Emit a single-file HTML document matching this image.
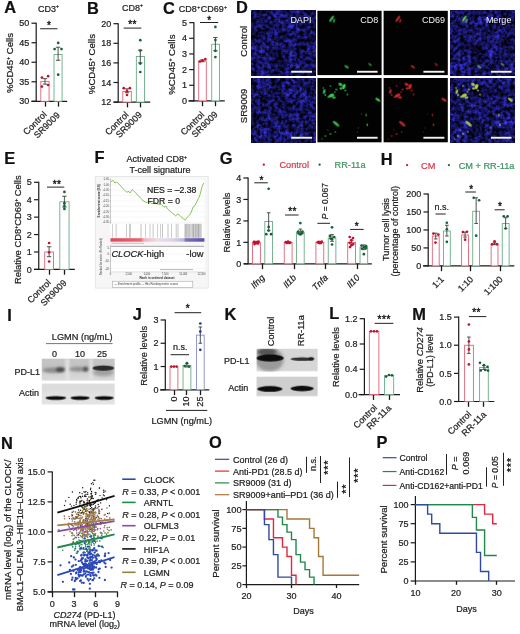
<!DOCTYPE html><html><head><meta charset="utf-8"><style>html,body{margin:0;padding:0;background:#fff;}svg{display:block;will-change:transform;}</style></head><body><svg width="520" height="634" viewBox="0 0 520 634" font-family='"Liberation Sans", sans-serif' fill="#222">
<rect width="520" height="634" fill="#fff"/>
<text x="4.35" y="13.30" font-size="16.4" fill="#111" font-weight="bold" stroke="#111" stroke-width="0.22">A</text>
<text x="38.10" y="11.60" font-size="9" stroke="#222" stroke-width="0.22">CD3<tspan font-size="5.2" dy="-3.9">+</tspan></text>
<line x1="36.20" y1="22.70" x2="36.20" y2="101.80" stroke="#1a1a1a" stroke-width="1.2"/>
<line x1="31.50" y1="23.20" x2="36.20" y2="23.20" stroke="#1a1a1a" stroke-width="1.2"/>
<text x="29.30" y="26.35" font-size="9" text-anchor="end" stroke="#222" stroke-width="0.22">50</text>
<line x1="31.50" y1="42.73" x2="36.20" y2="42.73" stroke="#1a1a1a" stroke-width="1.2"/>
<text x="29.30" y="45.88" font-size="9" text-anchor="end" stroke="#222" stroke-width="0.22">45</text>
<line x1="31.50" y1="62.25" x2="36.20" y2="62.25" stroke="#1a1a1a" stroke-width="1.2"/>
<text x="29.30" y="65.40" font-size="9" text-anchor="end" stroke="#222" stroke-width="0.22">40</text>
<line x1="31.50" y1="81.78" x2="36.20" y2="81.78" stroke="#1a1a1a" stroke-width="1.2"/>
<text x="29.30" y="84.93" font-size="9" text-anchor="end" stroke="#222" stroke-width="0.22">35</text>
<line x1="31.50" y1="101.30" x2="36.20" y2="101.30" stroke="#1a1a1a" stroke-width="1.2"/>
<text x="29.30" y="104.45" font-size="9" text-anchor="end" stroke="#222" stroke-width="0.22">30</text>
<line x1="31.50" y1="101.30" x2="67.20" y2="101.30" stroke="#1a1a1a" stroke-width="1.2"/>
<line x1="45.50" y1="101.30" x2="45.50" y2="106.60" stroke="#1a1a1a" stroke-width="1.3"/>
<line x1="58.50" y1="101.30" x2="58.50" y2="106.60" stroke="#1a1a1a" stroke-width="1.3"/>
<rect x="40.82" y="81.38" width="8.25" height="19.92" fill="#fff" stroke="#e05a70" stroke-width="0.85"/>
<rect x="54.02" y="54.44" width="8.05" height="46.86" fill="#fff" stroke="#62a880" stroke-width="0.85"/>
<line x1="45.00" y1="78.65" x2="45.00" y2="84.12" stroke="#3a403a" stroke-width="0.9"/>
<line x1="42.80" y1="78.65" x2="47.20" y2="78.65" stroke="#3a403a" stroke-width="0.9"/>
<line x1="42.80" y1="84.12" x2="47.20" y2="84.12" stroke="#3a403a" stroke-width="0.9"/>
<line x1="58.10" y1="47.22" x2="58.10" y2="60.30" stroke="#3a403a" stroke-width="0.9"/>
<line x1="55.90" y1="47.22" x2="60.30" y2="47.22" stroke="#3a403a" stroke-width="0.9"/>
<line x1="55.90" y1="60.30" x2="60.30" y2="60.30" stroke="#3a403a" stroke-width="0.9"/>
<circle cx="41.90" cy="77.60" r="1.35" fill="#c4102c"/>
<circle cx="48.10" cy="76.20" r="1.35" fill="#c4102c"/>
<circle cx="41.90" cy="86.60" r="1.35" fill="#c4102c"/>
<circle cx="48.10" cy="85.00" r="1.35" fill="#c4102c"/>
<circle cx="58.20" cy="42.90" r="1.35" fill="#17603a"/>
<circle cx="54.60" cy="49.10" r="1.35" fill="#17603a"/>
<circle cx="61.50" cy="49.10" r="1.35" fill="#17603a"/>
<circle cx="58.20" cy="74.70" r="1.35" fill="#17603a"/>
<line x1="40.20" y1="28.75" x2="57.50" y2="28.75" stroke="#222" stroke-width="1.0"/>
<text x="48.85" y="29.13" font-size="10.0" text-anchor="middle" fill="#151515" stroke="#151515" stroke-width="0.35">*</text>
<text x="13.20" y="63.00" font-size="9.6" text-anchor="middle" transform="rotate(-90 13.20 63.00)" stroke="#222" stroke-width="0.22">%CD45<tspan font-size="5.2" dy="-3.1">+</tspan><tspan dy="3.1"> Cells</tspan></text>
<text x="47.30" y="115.00" font-size="9" text-anchor="end" transform="rotate(-45 47.30 115.00)" stroke="#222" stroke-width="0.22">Control</text>
<text x="60.50" y="115.80" font-size="9" text-anchor="end" transform="rotate(-45 60.50 115.80)" stroke="#222" stroke-width="0.22">SR9009</text>
<text x="87.10" y="13.80" font-size="16.4" fill="#111" font-weight="bold" stroke="#111" stroke-width="0.22">B</text>
<text x="121.90" y="10.70" font-size="9" stroke="#222" stroke-width="0.22">CD8<tspan font-size="5.2" dy="-3.9">+</tspan></text>
<line x1="118.20" y1="23.20" x2="118.20" y2="102.60" stroke="#1a1a1a" stroke-width="1.2"/>
<line x1="113.50" y1="23.70" x2="118.20" y2="23.70" stroke="#1a1a1a" stroke-width="1.2"/>
<text x="111.30" y="26.85" font-size="9" text-anchor="end" stroke="#222" stroke-width="0.22">20</text>
<line x1="113.50" y1="43.30" x2="118.20" y2="43.30" stroke="#1a1a1a" stroke-width="1.2"/>
<text x="111.30" y="46.45" font-size="9" text-anchor="end" stroke="#222" stroke-width="0.22">18</text>
<line x1="113.50" y1="62.90" x2="118.20" y2="62.90" stroke="#1a1a1a" stroke-width="1.2"/>
<text x="111.30" y="66.05" font-size="9" text-anchor="end" stroke="#222" stroke-width="0.22">16</text>
<line x1="113.50" y1="82.50" x2="118.20" y2="82.50" stroke="#1a1a1a" stroke-width="1.2"/>
<text x="111.30" y="85.65" font-size="9" text-anchor="end" stroke="#222" stroke-width="0.22">14</text>
<line x1="113.50" y1="102.10" x2="118.20" y2="102.10" stroke="#1a1a1a" stroke-width="1.2"/>
<text x="111.30" y="105.25" font-size="9" text-anchor="end" stroke="#222" stroke-width="0.22">12</text>
<line x1="113.50" y1="102.10" x2="150.20" y2="102.10" stroke="#1a1a1a" stroke-width="1.2"/>
<line x1="127.50" y1="102.10" x2="127.50" y2="107.40" stroke="#1a1a1a" stroke-width="1.3"/>
<line x1="140.50" y1="102.10" x2="140.50" y2="107.40" stroke="#1a1a1a" stroke-width="1.3"/>
<rect x="122.83" y="91.52" width="8.45" height="10.58" fill="#fff" stroke="#e05a70" stroke-width="0.85"/>
<rect x="136.33" y="56.53" width="8.15" height="45.57" fill="#fff" stroke="#62a880" stroke-width="0.85"/>
<line x1="127.00" y1="88.87" x2="127.00" y2="92.79" stroke="#3a403a" stroke-width="0.9"/>
<line x1="124.80" y1="88.87" x2="129.20" y2="88.87" stroke="#3a403a" stroke-width="0.9"/>
<line x1="124.80" y1="92.79" x2="129.20" y2="92.79" stroke="#3a403a" stroke-width="0.9"/>
<line x1="140.30" y1="50.16" x2="140.30" y2="62.90" stroke="#3a403a" stroke-width="0.9"/>
<line x1="138.10" y1="50.16" x2="142.50" y2="50.16" stroke="#3a403a" stroke-width="0.9"/>
<line x1="138.10" y1="62.90" x2="142.50" y2="62.90" stroke="#3a403a" stroke-width="0.9"/>
<circle cx="123.70" cy="88.20" r="1.35" fill="#c4102c"/>
<circle cx="129.90" cy="88.20" r="1.35" fill="#c4102c"/>
<circle cx="127.00" cy="95.00" r="1.35" fill="#c4102c"/>
<circle cx="127.00" cy="91.20" r="1.35" fill="#c4102c"/>
<circle cx="140.30" cy="40.20" r="1.35" fill="#17603a"/>
<circle cx="140.30" cy="50.60" r="1.35" fill="#17603a"/>
<circle cx="140.30" cy="63.60" r="1.35" fill="#17603a"/>
<circle cx="140.30" cy="72.00" r="1.35" fill="#17603a"/>
<line x1="123.70" y1="28.10" x2="141.30" y2="28.10" stroke="#222" stroke-width="1.0"/>
<text x="130.25" y="28.23" font-size="10.0" text-anchor="middle" fill="#151515" stroke="#151515" stroke-width="0.35">*</text>
<text x="134.55" y="28.23" font-size="10.0" text-anchor="middle" fill="#151515" stroke="#151515" stroke-width="0.35">*</text>
<text x="94.80" y="64.10" font-size="9.6" text-anchor="middle" transform="rotate(-90 94.80 64.10)" stroke="#222" stroke-width="0.22">%CD45<tspan font-size="5.2" dy="-3.1">+</tspan><tspan dy="3.1"> Cells</tspan></text>
<text x="129.20" y="115.30" font-size="9" text-anchor="end" transform="rotate(-45 129.20 115.30)" stroke="#222" stroke-width="0.22">Control</text>
<text x="142.50" y="115.30" font-size="9" text-anchor="end" transform="rotate(-45 142.50 115.30)" stroke="#222" stroke-width="0.22">SR9009</text>
<text x="163.05" y="13.70" font-size="16.4" fill="#111" font-weight="bold" stroke="#111" stroke-width="0.22">C</text>
<text x="178.80" y="11.90" font-size="9" stroke="#222" stroke-width="0.22">CD8<tspan font-size="5.2" dy="-2.6" dx="0.4">+</tspan><tspan dy="2.6" dx="0.4">CD69</tspan><tspan font-size="5.2" dy="-2.6" dx="0.3">+</tspan></text>
<line x1="193.90" y1="22.15" x2="193.90" y2="101.40" stroke="#1a1a1a" stroke-width="1.2"/>
<line x1="189.20" y1="22.65" x2="193.90" y2="22.65" stroke="#1a1a1a" stroke-width="1.2"/>
<text x="187.00" y="25.80" font-size="9" text-anchor="end" stroke="#222" stroke-width="0.22">5</text>
<line x1="189.20" y1="38.30" x2="193.90" y2="38.30" stroke="#1a1a1a" stroke-width="1.2"/>
<text x="187.00" y="41.45" font-size="9" text-anchor="end" stroke="#222" stroke-width="0.22">4</text>
<line x1="189.20" y1="53.95" x2="193.90" y2="53.95" stroke="#1a1a1a" stroke-width="1.2"/>
<text x="187.00" y="57.10" font-size="9" text-anchor="end" stroke="#222" stroke-width="0.22">3</text>
<line x1="189.20" y1="69.60" x2="193.90" y2="69.60" stroke="#1a1a1a" stroke-width="1.2"/>
<text x="187.00" y="72.75" font-size="9" text-anchor="end" stroke="#222" stroke-width="0.22">2</text>
<line x1="189.20" y1="85.25" x2="193.90" y2="85.25" stroke="#1a1a1a" stroke-width="1.2"/>
<text x="187.00" y="88.40" font-size="9" text-anchor="end" stroke="#222" stroke-width="0.22">1</text>
<line x1="189.20" y1="100.90" x2="193.90" y2="100.90" stroke="#1a1a1a" stroke-width="1.2"/>
<text x="187.00" y="104.05" font-size="9" text-anchor="end" stroke="#222" stroke-width="0.22">0</text>
<line x1="188.40" y1="100.90" x2="224.80" y2="100.90" stroke="#1a1a1a" stroke-width="1.2"/>
<line x1="202.50" y1="100.90" x2="202.50" y2="106.20" stroke="#1a1a1a" stroke-width="1.3"/>
<line x1="215.50" y1="100.90" x2="215.50" y2="106.20" stroke="#1a1a1a" stroke-width="1.3"/>
<rect x="198.73" y="60.99" width="7.55" height="39.91" fill="#fff" stroke="#e05a70" stroke-width="0.85"/>
<rect x="211.73" y="44.25" width="7.85" height="56.65" fill="#fff" stroke="#62a880" stroke-width="0.85"/>
<line x1="202.40" y1="59.90" x2="202.40" y2="61.78" stroke="#3a403a" stroke-width="0.9"/>
<line x1="200.20" y1="59.90" x2="204.60" y2="59.90" stroke="#3a403a" stroke-width="0.9"/>
<line x1="200.20" y1="61.78" x2="204.60" y2="61.78" stroke="#3a403a" stroke-width="0.9"/>
<line x1="215.40" y1="37.52" x2="215.40" y2="50.82" stroke="#3a403a" stroke-width="0.9"/>
<line x1="213.20" y1="37.52" x2="217.60" y2="37.52" stroke="#3a403a" stroke-width="0.9"/>
<line x1="213.20" y1="50.82" x2="217.60" y2="50.82" stroke="#3a403a" stroke-width="0.9"/>
<circle cx="199.80" cy="61.50" r="1.35" fill="#c4102c"/>
<circle cx="202.40" cy="60.70" r="1.35" fill="#c4102c"/>
<circle cx="205.30" cy="59.20" r="1.35" fill="#c4102c"/>
<circle cx="215.40" cy="26.90" r="1.35" fill="#17603a"/>
<circle cx="215.40" cy="40.10" r="1.35" fill="#17603a"/>
<circle cx="215.40" cy="50.80" r="1.35" fill="#17603a"/>
<circle cx="215.40" cy="57.10" r="1.35" fill="#17603a"/>
<line x1="200.00" y1="22.50" x2="218.20" y2="22.50" stroke="#222" stroke-width="1.0"/>
<text x="209.10" y="24.33" font-size="10.0" text-anchor="middle" fill="#151515" stroke="#151515" stroke-width="0.35">*</text>
<text x="174.70" y="64.60" font-size="9.6" text-anchor="middle" transform="rotate(-90 174.70 64.60)" stroke="#222" stroke-width="0.22">%CD45<tspan font-size="5.2" dy="-3.1">+</tspan><tspan dy="3.1"> Cells</tspan></text>
<text x="204.80" y="115.30" font-size="9" text-anchor="end" transform="rotate(-45 204.80 115.30)" stroke="#222" stroke-width="0.22">Control</text>
<text x="218.30" y="114.90" font-size="9" text-anchor="end" transform="rotate(-45 218.30 114.90)" stroke="#222" stroke-width="0.22">SR9009</text>
<text x="235.90" y="13.30" font-size="16.4" fill="#111" font-weight="bold" stroke="#111" stroke-width="0.22">D</text>
<defs>
<filter id="dapi" x="0" y="0" width="100%" height="100%" color-interpolation-filters="sRGB">
 <feTurbulence type="fractalNoise" baseFrequency="0.28" numOctaves="3" seed="11" result="t1"/>
 <feColorMatrix in="t1" type="matrix" values="1 0 0 0 0  1 0 0 0 0  1 0 0 0 0  0 0 0 0 1" result="n"/>
 <feTurbulence type="fractalNoise" baseFrequency="0.07" numOctaves="2" seed="5" result="t2"/>
 <feColorMatrix in="t2" type="matrix" values="1 0 0 0 0  1 0 0 0 0  1 0 0 0 0  0 0 0 0 1" result="m"/>
 <feComposite in="n" in2="m" operator="arithmetic" k1="1" k2="0.5" k3="0" k4="0" result="nm"/>
 <feColorMatrix in="nm" type="matrix" values="0.32 0 0 0 -0.085  0.3 0 0 0 -0.08  1.3 0 0 0 -0.315  0 0 0 0 1"/>
 <feGaussianBlur stdDeviation="0.5"/>
</filter>
<filter id="dapi2" x="0" y="0" width="100%" height="100%" color-interpolation-filters="sRGB">
 <feTurbulence type="fractalNoise" baseFrequency="0.28" numOctaves="3" seed="23" result="t1"/>
 <feColorMatrix in="t1" type="matrix" values="1 0 0 0 0  1 0 0 0 0  1 0 0 0 0  0 0 0 0 1" result="n"/>
 <feTurbulence type="fractalNoise" baseFrequency="0.07" numOctaves="2" seed="9" result="t2"/>
 <feColorMatrix in="t2" type="matrix" values="1 0 0 0 0  1 0 0 0 0  1 0 0 0 0  0 0 0 0 1" result="m"/>
 <feComposite in="n" in2="m" operator="arithmetic" k1="1" k2="0.5" k3="0" k4="0" result="nm"/>
 <feColorMatrix in="nm" type="matrix" values="0.32 0 0 0 -0.085  0.3 0 0 0 -0.08  1.3 0 0 0 -0.315  0 0 0 0 1"/>
 <feGaussianBlur stdDeviation="0.5"/>
</filter>
<filter id="blur06"><feGaussianBlur stdDeviation="0.6"/></filter>
<filter id="blur04" x="-50%" y="-50%" width="200%" height="200%"><feGaussianBlur stdDeviation="0.55"/></filter>
</defs>
<rect x="251.00" y="10.80" width="64.20" height="64.30" fill="#111" filter="url(#dapi)"/>
<rect x="317.40" y="10.80" width="64.20" height="64.30" fill="#020202"/>
<ellipse cx="331.60" cy="18.80" rx="1.1" ry="3.8" fill="#3ad056" opacity="0.95" transform="rotate(35 331.60 18.80)" filter="url(#blur04)"/>
<ellipse cx="334.00" cy="20.80" rx="1.0" ry="2.2" fill="#3ad056" opacity="0.70" transform="rotate(15 334.00 20.80)" filter="url(#blur04)"/>
<ellipse cx="346.60" cy="66.80" rx="1.2" ry="2.6" fill="#3ad056" opacity="0.75" transform="rotate(-55 346.60 66.80)" filter="url(#blur04)"/>
<ellipse cx="370.00" cy="64.50" rx="0.9" ry="2.2" fill="#3ad056" opacity="0.65" transform="rotate(-45 370.00 64.50)" filter="url(#blur04)"/>
<rect x="383.60" y="10.80" width="64.20" height="64.30" fill="#020202"/>
<ellipse cx="397.80" cy="18.80" rx="1.1" ry="3.8" fill="#e02a2a" opacity="0.90" transform="rotate(35 397.80 18.80)" filter="url(#blur04)"/>
<ellipse cx="400.20" cy="20.80" rx="1.0" ry="2.2" fill="#e02a2a" opacity="0.66" transform="rotate(15 400.20 20.80)" filter="url(#blur04)"/>
<ellipse cx="412.80" cy="66.80" rx="1.2" ry="2.6" fill="#e02a2a" opacity="0.71" transform="rotate(-55 412.80 66.80)" filter="url(#blur04)"/>
<ellipse cx="436.20" cy="64.50" rx="0.9" ry="2.2" fill="#e02a2a" opacity="0.62" transform="rotate(-45 436.20 64.50)" filter="url(#blur04)"/>
<rect x="450.00" y="10.80" width="64.20" height="64.30" fill="#111" filter="url(#dapi)"/>
<ellipse cx="464.20" cy="18.80" rx="1.1" ry="3.8" fill="#70d848" opacity="0.85" transform="rotate(35 464.20 18.80)" filter="url(#blur04)"/>
<ellipse cx="466.60" cy="20.80" rx="1.0" ry="2.2" fill="#70d848" opacity="0.63" transform="rotate(15 466.60 20.80)" filter="url(#blur04)"/>
<ellipse cx="479.20" cy="66.80" rx="1.2" ry="2.6" fill="#70d848" opacity="0.68" transform="rotate(-55 479.20 66.80)" filter="url(#blur04)"/>
<ellipse cx="502.60" cy="64.50" rx="0.9" ry="2.2" fill="#70d848" opacity="0.59" transform="rotate(-45 502.60 64.50)" filter="url(#blur04)"/>
<rect x="251.00" y="78.00" width="64.20" height="64.30" fill="#111" filter="url(#dapi2)"/>
<rect x="317.40" y="78.00" width="64.20" height="64.30" fill="#020202"/>
<ellipse cx="340.40" cy="84.50" rx="2.2" ry="1.4" fill="#3ad056" opacity="0.90" transform="rotate(30 340.40 84.50)" filter="url(#blur04)"/>
<ellipse cx="343.90" cy="86.50" rx="1.6" ry="2.8" fill="#3ad056" opacity="1.00" transform="rotate(20 343.90 86.50)" filter="url(#blur04)"/>
<ellipse cx="340.90" cy="88.50" rx="1.4" ry="1.2" fill="#3ad056" opacity="0.80" transform="rotate(0 340.90 88.50)" filter="url(#blur04)"/>
<ellipse cx="345.40" cy="90.50" rx="1.2" ry="1.0" fill="#3ad056" opacity="0.60" transform="rotate(0 345.40 90.50)" filter="url(#blur04)"/>
<ellipse cx="331.40" cy="95.50" rx="3.0" ry="1.7" fill="#3ad056" opacity="0.95" transform="rotate(-25 331.40 95.50)" filter="url(#blur04)"/>
<ellipse cx="333.90" cy="97.50" rx="1.8" ry="1.3" fill="#3ad056" opacity="0.80" transform="rotate(0 333.90 97.50)" filter="url(#blur04)"/>
<ellipse cx="328.40" cy="97.00" rx="1.2" ry="1.0" fill="#3ad056" opacity="0.60" transform="rotate(0 328.40 97.00)" filter="url(#blur04)"/>
<ellipse cx="324.20" cy="91.50" rx="1.3" ry="2.6" fill="#3ad056" opacity="0.85" transform="rotate(15 324.20 91.50)" filter="url(#blur04)"/>
<ellipse cx="325.40" cy="95.00" rx="1.0" ry="1.2" fill="#3ad056" opacity="0.60" transform="rotate(0 325.40 95.00)" filter="url(#blur04)"/>
<ellipse cx="323.40" cy="88.00" rx="0.9" ry="0.9" fill="#3ad056" opacity="0.50" transform="rotate(0 323.40 88.00)" filter="url(#blur04)"/>
<ellipse cx="336.40" cy="89.50" rx="1.4" ry="1.0" fill="#3ad056" opacity="0.55" transform="rotate(0 336.40 89.50)" filter="url(#blur04)"/>
<ellipse cx="330.40" cy="86.00" rx="1.0" ry="1.0" fill="#3ad056" opacity="0.50" transform="rotate(0 330.40 86.00)" filter="url(#blur04)"/>
<ellipse cx="347.40" cy="94.50" rx="1.0" ry="1.3" fill="#3ad056" opacity="0.50" transform="rotate(0 347.40 94.50)" filter="url(#blur04)"/>
<ellipse cx="334.90" cy="92.00" rx="0.9" ry="0.9" fill="#3ad056" opacity="0.50" transform="rotate(0 334.90 92.00)" filter="url(#blur04)"/>
<ellipse cx="377.80" cy="99.70" rx="1.3" ry="3.0" fill="#3ad056" opacity="0.90" transform="rotate(-55 377.80 99.70)" filter="url(#blur04)"/>
<ellipse cx="336.00" cy="123.70" rx="1.4" ry="4.0" fill="#3ad056" opacity="0.85" transform="rotate(-50 336.00 123.70)" filter="url(#blur04)"/>
<ellipse cx="366.20" cy="115.00" rx="0.9" ry="1.5" fill="#3ad056" opacity="0.55" transform="rotate(0 366.20 115.00)" filter="url(#blur04)"/>
<ellipse cx="367.30" cy="124.70" rx="0.9" ry="1.5" fill="#3ad056" opacity="0.65" transform="rotate(0 367.30 124.70)" filter="url(#blur04)"/>
<ellipse cx="325.40" cy="136.00" rx="1.2" ry="1.0" fill="#3ad056" opacity="0.45" transform="rotate(0 325.40 136.00)" filter="url(#blur04)"/>
<ellipse cx="330.40" cy="134.00" rx="1.3" ry="1.0" fill="#3ad056" opacity="0.50" transform="rotate(0 330.40 134.00)" filter="url(#blur04)"/>
<ellipse cx="335.40" cy="132.00" rx="1.0" ry="1.0" fill="#3ad056" opacity="0.45" transform="rotate(0 335.40 132.00)" filter="url(#blur04)"/>
<ellipse cx="321.90" cy="139.00" rx="1.0" ry="0.8" fill="#3ad056" opacity="0.40" transform="rotate(0 321.90 139.00)" filter="url(#blur04)"/>
<ellipse cx="358.40" cy="128.00" rx="0.8" ry="0.8" fill="#3ad056" opacity="0.35" transform="rotate(0 358.40 128.00)" filter="url(#blur04)"/>
<ellipse cx="361.40" cy="114.00" rx="0.8" ry="0.8" fill="#3ad056" opacity="0.30" transform="rotate(0 361.40 114.00)" filter="url(#blur04)"/>
<ellipse cx="357.40" cy="132.00" rx="0.7" ry="0.7" fill="#3ad056" opacity="0.30" transform="rotate(0 357.40 132.00)" filter="url(#blur04)"/>
<ellipse cx="327.90" cy="130.00" rx="0.8" ry="0.8" fill="#3ad056" opacity="0.35" transform="rotate(0 327.90 130.00)" filter="url(#blur04)"/>
<rect x="383.60" y="78.00" width="64.20" height="64.30" fill="#020202"/>
<ellipse cx="406.60" cy="84.50" rx="2.2" ry="1.4" fill="#e02a2a" opacity="0.85" transform="rotate(30 406.60 84.50)" filter="url(#blur04)"/>
<ellipse cx="410.10" cy="86.50" rx="1.6" ry="2.8" fill="#e02a2a" opacity="0.95" transform="rotate(20 410.10 86.50)" filter="url(#blur04)"/>
<ellipse cx="407.10" cy="88.50" rx="1.4" ry="1.2" fill="#e02a2a" opacity="0.76" transform="rotate(0 407.10 88.50)" filter="url(#blur04)"/>
<ellipse cx="411.60" cy="90.50" rx="1.2" ry="1.0" fill="#e02a2a" opacity="0.57" transform="rotate(0 411.60 90.50)" filter="url(#blur04)"/>
<ellipse cx="397.60" cy="95.50" rx="3.0" ry="1.7" fill="#e02a2a" opacity="0.90" transform="rotate(-25 397.60 95.50)" filter="url(#blur04)"/>
<ellipse cx="400.10" cy="97.50" rx="1.8" ry="1.3" fill="#e02a2a" opacity="0.76" transform="rotate(0 400.10 97.50)" filter="url(#blur04)"/>
<ellipse cx="394.60" cy="97.00" rx="1.2" ry="1.0" fill="#e02a2a" opacity="0.57" transform="rotate(0 394.60 97.00)" filter="url(#blur04)"/>
<ellipse cx="390.40" cy="91.50" rx="1.3" ry="2.6" fill="#e02a2a" opacity="0.81" transform="rotate(15 390.40 91.50)" filter="url(#blur04)"/>
<ellipse cx="391.60" cy="95.00" rx="1.0" ry="1.2" fill="#e02a2a" opacity="0.57" transform="rotate(0 391.60 95.00)" filter="url(#blur04)"/>
<ellipse cx="389.60" cy="88.00" rx="0.9" ry="0.9" fill="#e02a2a" opacity="0.47" transform="rotate(0 389.60 88.00)" filter="url(#blur04)"/>
<ellipse cx="402.60" cy="89.50" rx="1.4" ry="1.0" fill="#e02a2a" opacity="0.52" transform="rotate(0 402.60 89.50)" filter="url(#blur04)"/>
<ellipse cx="396.60" cy="86.00" rx="1.0" ry="1.0" fill="#e02a2a" opacity="0.47" transform="rotate(0 396.60 86.00)" filter="url(#blur04)"/>
<ellipse cx="413.60" cy="94.50" rx="1.0" ry="1.3" fill="#e02a2a" opacity="0.47" transform="rotate(0 413.60 94.50)" filter="url(#blur04)"/>
<ellipse cx="401.10" cy="92.00" rx="0.9" ry="0.9" fill="#e02a2a" opacity="0.47" transform="rotate(0 401.10 92.00)" filter="url(#blur04)"/>
<ellipse cx="444.00" cy="99.70" rx="1.3" ry="3.0" fill="#e02a2a" opacity="0.85" transform="rotate(-55 444.00 99.70)" filter="url(#blur04)"/>
<ellipse cx="402.20" cy="123.70" rx="1.4" ry="4.0" fill="#e02a2a" opacity="0.81" transform="rotate(-50 402.20 123.70)" filter="url(#blur04)"/>
<ellipse cx="432.40" cy="115.00" rx="0.9" ry="1.5" fill="#e02a2a" opacity="0.52" transform="rotate(0 432.40 115.00)" filter="url(#blur04)"/>
<ellipse cx="433.50" cy="124.70" rx="0.9" ry="1.5" fill="#e02a2a" opacity="0.62" transform="rotate(0 433.50 124.70)" filter="url(#blur04)"/>
<ellipse cx="391.60" cy="136.00" rx="1.2" ry="1.0" fill="#e02a2a" opacity="0.43" transform="rotate(0 391.60 136.00)" filter="url(#blur04)"/>
<ellipse cx="396.60" cy="134.00" rx="1.3" ry="1.0" fill="#e02a2a" opacity="0.47" transform="rotate(0 396.60 134.00)" filter="url(#blur04)"/>
<ellipse cx="401.60" cy="132.00" rx="1.0" ry="1.0" fill="#e02a2a" opacity="0.43" transform="rotate(0 401.60 132.00)" filter="url(#blur04)"/>
<ellipse cx="388.10" cy="139.00" rx="1.0" ry="0.8" fill="#e02a2a" opacity="0.38" transform="rotate(0 388.10 139.00)" filter="url(#blur04)"/>
<ellipse cx="424.60" cy="128.00" rx="0.8" ry="0.8" fill="#e02a2a" opacity="0.33" transform="rotate(0 424.60 128.00)" filter="url(#blur04)"/>
<ellipse cx="427.60" cy="114.00" rx="0.8" ry="0.8" fill="#e02a2a" opacity="0.28" transform="rotate(0 427.60 114.00)" filter="url(#blur04)"/>
<ellipse cx="423.60" cy="132.00" rx="0.7" ry="0.7" fill="#e02a2a" opacity="0.28" transform="rotate(0 423.60 132.00)" filter="url(#blur04)"/>
<ellipse cx="394.10" cy="130.00" rx="0.8" ry="0.8" fill="#e02a2a" opacity="0.33" transform="rotate(0 394.10 130.00)" filter="url(#blur04)"/>
<rect x="450.00" y="78.00" width="64.20" height="64.30" fill="#111" filter="url(#dapi2)"/>
<ellipse cx="473.00" cy="84.50" rx="2.2" ry="1.4" fill="#c8ec50" opacity="0.81" transform="rotate(30 473.00 84.50)" filter="url(#blur04)"/>
<ellipse cx="476.50" cy="86.50" rx="1.6" ry="2.8" fill="#c8ec50" opacity="0.90" transform="rotate(20 476.50 86.50)" filter="url(#blur04)"/>
<ellipse cx="473.50" cy="88.50" rx="1.4" ry="1.2" fill="#c8ec50" opacity="0.72" transform="rotate(0 473.50 88.50)" filter="url(#blur04)"/>
<ellipse cx="478.00" cy="90.50" rx="1.2" ry="1.0" fill="#c8ec50" opacity="0.54" transform="rotate(0 478.00 90.50)" filter="url(#blur04)"/>
<ellipse cx="464.00" cy="95.50" rx="3.0" ry="1.7" fill="#c8ec50" opacity="0.85" transform="rotate(-25 464.00 95.50)" filter="url(#blur04)"/>
<ellipse cx="466.50" cy="97.50" rx="1.8" ry="1.3" fill="#c8ec50" opacity="0.72" transform="rotate(0 466.50 97.50)" filter="url(#blur04)"/>
<ellipse cx="461.00" cy="97.00" rx="1.2" ry="1.0" fill="#c8ec50" opacity="0.54" transform="rotate(0 461.00 97.00)" filter="url(#blur04)"/>
<ellipse cx="456.80" cy="91.50" rx="1.3" ry="2.6" fill="#c8ec50" opacity="0.77" transform="rotate(15 456.80 91.50)" filter="url(#blur04)"/>
<ellipse cx="458.00" cy="95.00" rx="1.0" ry="1.2" fill="#c8ec50" opacity="0.54" transform="rotate(0 458.00 95.00)" filter="url(#blur04)"/>
<ellipse cx="456.00" cy="88.00" rx="0.9" ry="0.9" fill="#c8ec50" opacity="0.45" transform="rotate(0 456.00 88.00)" filter="url(#blur04)"/>
<ellipse cx="469.00" cy="89.50" rx="1.4" ry="1.0" fill="#c8ec50" opacity="0.50" transform="rotate(0 469.00 89.50)" filter="url(#blur04)"/>
<ellipse cx="463.00" cy="86.00" rx="1.0" ry="1.0" fill="#c8ec50" opacity="0.45" transform="rotate(0 463.00 86.00)" filter="url(#blur04)"/>
<ellipse cx="480.00" cy="94.50" rx="1.0" ry="1.3" fill="#c8ec50" opacity="0.45" transform="rotate(0 480.00 94.50)" filter="url(#blur04)"/>
<ellipse cx="467.50" cy="92.00" rx="0.9" ry="0.9" fill="#c8ec50" opacity="0.45" transform="rotate(0 467.50 92.00)" filter="url(#blur04)"/>
<ellipse cx="510.40" cy="99.70" rx="1.3" ry="3.0" fill="#c8ec50" opacity="0.81" transform="rotate(-55 510.40 99.70)" filter="url(#blur04)"/>
<ellipse cx="468.60" cy="123.70" rx="1.4" ry="4.0" fill="#c8ec50" opacity="0.77" transform="rotate(-50 468.60 123.70)" filter="url(#blur04)"/>
<ellipse cx="498.80" cy="115.00" rx="0.9" ry="1.5" fill="#c8ec50" opacity="0.50" transform="rotate(0 498.80 115.00)" filter="url(#blur04)"/>
<ellipse cx="499.90" cy="124.70" rx="0.9" ry="1.5" fill="#c8ec50" opacity="0.59" transform="rotate(0 499.90 124.70)" filter="url(#blur04)"/>
<ellipse cx="458.00" cy="136.00" rx="1.2" ry="1.0" fill="#c8ec50" opacity="0.41" transform="rotate(0 458.00 136.00)" filter="url(#blur04)"/>
<ellipse cx="463.00" cy="134.00" rx="1.3" ry="1.0" fill="#c8ec50" opacity="0.45" transform="rotate(0 463.00 134.00)" filter="url(#blur04)"/>
<ellipse cx="468.00" cy="132.00" rx="1.0" ry="1.0" fill="#c8ec50" opacity="0.41" transform="rotate(0 468.00 132.00)" filter="url(#blur04)"/>
<ellipse cx="454.50" cy="139.00" rx="1.0" ry="0.8" fill="#c8ec50" opacity="0.36" transform="rotate(0 454.50 139.00)" filter="url(#blur04)"/>
<ellipse cx="491.00" cy="128.00" rx="0.8" ry="0.8" fill="#c8ec50" opacity="0.32" transform="rotate(0 491.00 128.00)" filter="url(#blur04)"/>
<ellipse cx="494.00" cy="114.00" rx="0.8" ry="0.8" fill="#c8ec50" opacity="0.27" transform="rotate(0 494.00 114.00)" filter="url(#blur04)"/>
<ellipse cx="490.00" cy="132.00" rx="0.7" ry="0.7" fill="#c8ec50" opacity="0.27" transform="rotate(0 490.00 132.00)" filter="url(#blur04)"/>
<ellipse cx="460.50" cy="130.00" rx="0.8" ry="0.8" fill="#c8ec50" opacity="0.32" transform="rotate(0 460.50 130.00)" filter="url(#blur04)"/>
<text x="311.40" y="22.60" font-size="9" text-anchor="end" fill="#f4f4f4">DAPI</text>
<text x="378.30" y="22.60" font-size="9" text-anchor="end" fill="#f4f4f4">CD8</text>
<text x="445.10" y="22.60" font-size="9" text-anchor="end" fill="#f4f4f4">CD69</text>
<text x="511.40" y="22.60" font-size="9" text-anchor="end" fill="#f4f4f4">Merge</text>
<rect x="291.20" y="70.80" width="20.80" height="1.90" fill="#f2f2f2"/>
<rect x="291.20" y="136.80" width="20.80" height="1.90" fill="#f2f2f2"/>
<rect x="357.00" y="70.80" width="20.60" height="1.90" fill="#f2f2f2"/>
<rect x="357.00" y="136.80" width="20.60" height="1.90" fill="#f2f2f2"/>
<rect x="423.40" y="70.80" width="21.00" height="1.90" fill="#f2f2f2"/>
<rect x="423.40" y="136.80" width="21.00" height="1.90" fill="#f2f2f2"/>
<rect x="491.00" y="70.80" width="20.50" height="1.90" fill="#f2f2f2"/>
<rect x="491.00" y="136.80" width="20.50" height="1.90" fill="#f2f2f2"/>
<text x="247.40" y="41.20" font-size="9.6" text-anchor="middle" transform="rotate(-90 247.40 41.20)" stroke="#222" stroke-width="0.22">Control</text>
<text x="247.40" y="105.90" font-size="9.6" text-anchor="middle" transform="rotate(-90 247.40 105.90)" stroke="#222" stroke-width="0.22">SR9009</text>
<text x="4.15" y="163.75" font-size="16.4" fill="#111" font-weight="bold" stroke="#111" stroke-width="0.22">E</text>
<line x1="38.75" y1="181.80" x2="38.75" y2="269.90" stroke="#1a1a1a" stroke-width="1.2"/>
<line x1="34.05" y1="182.30" x2="38.75" y2="182.30" stroke="#1a1a1a" stroke-width="1.2"/>
<text x="31.85" y="185.45" font-size="9" text-anchor="end" stroke="#222" stroke-width="0.22">5</text>
<line x1="34.05" y1="199.72" x2="38.75" y2="199.72" stroke="#1a1a1a" stroke-width="1.2"/>
<text x="31.85" y="202.87" font-size="9" text-anchor="end" stroke="#222" stroke-width="0.22">4</text>
<line x1="34.05" y1="217.14" x2="38.75" y2="217.14" stroke="#1a1a1a" stroke-width="1.2"/>
<text x="31.85" y="220.29" font-size="9" text-anchor="end" stroke="#222" stroke-width="0.22">3</text>
<line x1="34.05" y1="234.56" x2="38.75" y2="234.56" stroke="#1a1a1a" stroke-width="1.2"/>
<text x="31.85" y="237.71" font-size="9" text-anchor="end" stroke="#222" stroke-width="0.22">2</text>
<line x1="34.05" y1="251.98" x2="38.75" y2="251.98" stroke="#1a1a1a" stroke-width="1.2"/>
<text x="31.85" y="255.13" font-size="9" text-anchor="end" stroke="#222" stroke-width="0.22">1</text>
<line x1="34.05" y1="269.40" x2="38.75" y2="269.40" stroke="#1a1a1a" stroke-width="1.2"/>
<text x="31.85" y="272.55" font-size="9" text-anchor="end" stroke="#222" stroke-width="0.22">0</text>
<line x1="34.00" y1="269.40" x2="74.80" y2="269.40" stroke="#1a1a1a" stroke-width="1.2"/>
<line x1="49.50" y1="269.40" x2="49.50" y2="274.70" stroke="#1a1a1a" stroke-width="1.3"/>
<line x1="64.50" y1="269.40" x2="64.50" y2="274.70" stroke="#1a1a1a" stroke-width="1.3"/>
<rect x="44.72" y="251.98" width="8.85" height="17.42" fill="#fff" stroke="#e05a70" stroke-width="0.85"/>
<rect x="59.82" y="201.81" width="9.25" height="67.59" fill="#fff" stroke="#62a880" stroke-width="0.85"/>
<line x1="49.10" y1="246.75" x2="49.10" y2="256.68" stroke="#3a403a" stroke-width="0.9"/>
<line x1="46.90" y1="246.75" x2="51.30" y2="246.75" stroke="#3a403a" stroke-width="0.9"/>
<line x1="46.90" y1="256.68" x2="51.30" y2="256.68" stroke="#3a403a" stroke-width="0.9"/>
<line x1="64.40" y1="196.24" x2="64.40" y2="207.04" stroke="#3a403a" stroke-width="0.9"/>
<line x1="62.20" y1="196.24" x2="66.60" y2="196.24" stroke="#3a403a" stroke-width="0.9"/>
<line x1="62.20" y1="207.04" x2="66.60" y2="207.04" stroke="#3a403a" stroke-width="0.9"/>
<circle cx="49.10" cy="243.00" r="1.35" fill="#c4102c"/>
<circle cx="49.10" cy="252.30" r="1.35" fill="#c4102c"/>
<circle cx="49.10" cy="261.50" r="1.35" fill="#c4102c"/>
<circle cx="64.40" cy="191.90" r="1.35" fill="#17603a"/>
<circle cx="64.40" cy="203.20" r="1.35" fill="#17603a"/>
<circle cx="64.40" cy="205.90" r="1.35" fill="#17603a"/>
<circle cx="64.40" cy="208.90" r="1.35" fill="#17603a"/>
<line x1="47.00" y1="187.10" x2="64.30" y2="187.10" stroke="#222" stroke-width="1.0"/>
<text x="54.60" y="187.93" font-size="10.0" text-anchor="middle" fill="#151515" stroke="#151515" stroke-width="0.35">*</text>
<text x="59.00" y="187.93" font-size="10.0" text-anchor="middle" fill="#151515" stroke="#151515" stroke-width="0.35">*</text>
<text x="21.10" y="229.70" font-size="9.4" text-anchor="middle" transform="rotate(-90 21.10 229.70)" stroke="#222" stroke-width="0.22">Relative CD8<tspan font-size="5.2" dy="-3.1">+</tspan><tspan dy="3.1">CD69</tspan><tspan font-size="5.2" dy="-3.1">+</tspan><tspan dy="3.1"> Cells</tspan></text>
<text x="51.50" y="283.20" font-size="9" text-anchor="end" transform="rotate(-45 51.50 283.20)" stroke="#222" stroke-width="0.22">Control</text>
<text x="67.20" y="283.40" font-size="9" text-anchor="end" transform="rotate(-45 67.20 283.40)" stroke="#222" stroke-width="0.22">SR9009</text>
<text x="219.65" y="163.90" font-size="16.4" fill="#111" font-weight="bold" stroke="#111" stroke-width="0.22">G</text>
<circle cx="263.80" cy="164.70" r="1.15" fill="#c4102c"/>
<text x="279.40" y="168.00" font-size="9.2" fill="#d83a48" stroke="#d83a48" stroke-width="0.22">Control</text>
<circle cx="319.60" cy="164.70" r="1.15" fill="#17603a"/>
<text x="334.60" y="168.00" font-size="9.2" fill="#3f9462" stroke="#3f9462" stroke-width="0.22">RR-11a</text>
<line x1="248.10" y1="177.50" x2="248.10" y2="264.30" stroke="#1a1a1a" stroke-width="1.2"/>
<line x1="243.40" y1="178.00" x2="248.10" y2="178.00" stroke="#1a1a1a" stroke-width="1.2"/>
<text x="241.20" y="181.15" font-size="9" text-anchor="end" stroke="#222" stroke-width="0.22">4</text>
<line x1="243.40" y1="199.45" x2="248.10" y2="199.45" stroke="#1a1a1a" stroke-width="1.2"/>
<text x="241.20" y="202.60" font-size="9" text-anchor="end" stroke="#222" stroke-width="0.22">3</text>
<line x1="243.40" y1="220.90" x2="248.10" y2="220.90" stroke="#1a1a1a" stroke-width="1.2"/>
<text x="241.20" y="224.05" font-size="9" text-anchor="end" stroke="#222" stroke-width="0.22">2</text>
<line x1="243.40" y1="242.35" x2="248.10" y2="242.35" stroke="#1a1a1a" stroke-width="1.2"/>
<text x="241.20" y="245.50" font-size="9" text-anchor="end" stroke="#222" stroke-width="0.22">1</text>
<line x1="243.40" y1="263.80" x2="248.10" y2="263.80" stroke="#1a1a1a" stroke-width="1.2"/>
<text x="241.20" y="266.95" font-size="9" text-anchor="end" stroke="#222" stroke-width="0.22">0</text>
<line x1="243.90" y1="263.80" x2="371.80" y2="263.80" stroke="#1a1a1a" stroke-width="1.2"/>
<line x1="262.50" y1="263.80" x2="262.50" y2="269.10" stroke="#1a1a1a" stroke-width="1.3"/>
<line x1="294.50" y1="263.80" x2="294.50" y2="269.10" stroke="#1a1a1a" stroke-width="1.3"/>
<line x1="325.50" y1="263.80" x2="325.50" y2="269.10" stroke="#1a1a1a" stroke-width="1.3"/>
<line x1="357.50" y1="263.80" x2="357.50" y2="269.10" stroke="#1a1a1a" stroke-width="1.3"/>
<rect x="252.53" y="242.35" width="7.85" height="21.45" fill="#fff" stroke="#e05a70" stroke-width="0.85"/>
<rect x="264.83" y="221.54" width="7.65" height="42.26" fill="#fff" stroke="#62a880" stroke-width="0.85"/>
<line x1="256.45" y1="241.28" x2="256.45" y2="243.42" stroke="#3a403a" stroke-width="0.9"/>
<line x1="254.65" y1="241.28" x2="258.25" y2="241.28" stroke="#3a403a" stroke-width="0.9"/>
<line x1="254.65" y1="243.42" x2="258.25" y2="243.42" stroke="#3a403a" stroke-width="0.9"/>
<line x1="268.65" y1="212.75" x2="268.65" y2="230.55" stroke="#3a403a" stroke-width="0.9"/>
<line x1="266.85" y1="212.75" x2="270.45" y2="212.75" stroke="#3a403a" stroke-width="0.9"/>
<line x1="266.85" y1="230.55" x2="270.45" y2="230.55" stroke="#3a403a" stroke-width="0.9"/>
<rect x="284.23" y="242.35" width="7.85" height="21.45" fill="#fff" stroke="#e05a70" stroke-width="0.85"/>
<rect x="296.53" y="232.05" width="7.65" height="31.75" fill="#fff" stroke="#62a880" stroke-width="0.85"/>
<line x1="288.15" y1="241.71" x2="288.15" y2="243.21" stroke="#3a403a" stroke-width="0.9"/>
<line x1="286.35" y1="241.71" x2="289.95" y2="241.71" stroke="#3a403a" stroke-width="0.9"/>
<line x1="286.35" y1="243.21" x2="289.95" y2="243.21" stroke="#3a403a" stroke-width="0.9"/>
<line x1="300.35" y1="229.05" x2="300.35" y2="234.84" stroke="#3a403a" stroke-width="0.9"/>
<line x1="298.55" y1="229.05" x2="302.15" y2="229.05" stroke="#3a403a" stroke-width="0.9"/>
<line x1="298.55" y1="234.84" x2="302.15" y2="234.84" stroke="#3a403a" stroke-width="0.9"/>
<rect x="315.93" y="242.35" width="7.85" height="21.45" fill="#fff" stroke="#e05a70" stroke-width="0.85"/>
<rect x="328.23" y="238.06" width="7.65" height="25.74" fill="#fff" stroke="#62a880" stroke-width="0.85"/>
<line x1="319.85" y1="241.71" x2="319.85" y2="243.42" stroke="#3a403a" stroke-width="0.9"/>
<line x1="318.05" y1="241.71" x2="321.65" y2="241.71" stroke="#3a403a" stroke-width="0.9"/>
<line x1="318.05" y1="243.42" x2="321.65" y2="243.42" stroke="#3a403a" stroke-width="0.9"/>
<line x1="332.05" y1="234.63" x2="332.05" y2="241.28" stroke="#3a403a" stroke-width="0.9"/>
<line x1="330.25" y1="234.63" x2="333.85" y2="234.63" stroke="#3a403a" stroke-width="0.9"/>
<line x1="330.25" y1="241.28" x2="333.85" y2="241.28" stroke="#3a403a" stroke-width="0.9"/>
<rect x="347.73" y="242.35" width="7.85" height="21.45" fill="#fff" stroke="#e05a70" stroke-width="0.85"/>
<rect x="360.03" y="247.28" width="7.65" height="16.52" fill="#fff" stroke="#62a880" stroke-width="0.85"/>
<line x1="351.65" y1="240.21" x2="351.65" y2="244.92" stroke="#3a403a" stroke-width="0.9"/>
<line x1="349.85" y1="240.21" x2="353.45" y2="240.21" stroke="#3a403a" stroke-width="0.9"/>
<line x1="349.85" y1="244.92" x2="353.45" y2="244.92" stroke="#3a403a" stroke-width="0.9"/>
<line x1="363.85" y1="244.92" x2="363.85" y2="249.64" stroke="#3a403a" stroke-width="0.9"/>
<line x1="362.05" y1="244.92" x2="365.65" y2="244.92" stroke="#3a403a" stroke-width="0.9"/>
<line x1="362.05" y1="249.64" x2="365.65" y2="249.64" stroke="#3a403a" stroke-width="0.9"/>
<circle cx="254.00" cy="241.92" r="1.35" fill="#c4102c"/>
<circle cx="258.50" cy="241.49" r="1.35" fill="#c4102c"/>
<circle cx="256.30" cy="243.21" r="1.35" fill="#c4102c"/>
<circle cx="254.50" cy="244.07" r="1.35" fill="#c4102c"/>
<circle cx="258.10" cy="243.42" r="1.35" fill="#c4102c"/>
<circle cx="256.50" cy="242.35" r="1.35" fill="#c4102c"/>
<circle cx="268.65" cy="188.73" r="1.35" fill="#17603a"/>
<circle cx="268.65" cy="230.55" r="1.35" fill="#17603a"/>
<circle cx="266.30" cy="234.20" r="1.35" fill="#17603a"/>
<circle cx="271.10" cy="234.20" r="1.35" fill="#17603a"/>
<circle cx="268.65" cy="226.91" r="1.35" fill="#17603a"/>
<circle cx="285.80" cy="242.14" r="1.35" fill="#c4102c"/>
<circle cx="290.20" cy="242.56" r="1.35" fill="#c4102c"/>
<circle cx="288.00" cy="241.71" r="1.35" fill="#c4102c"/>
<circle cx="286.80" cy="242.99" r="1.35" fill="#c4102c"/>
<circle cx="289.40" cy="242.99" r="1.35" fill="#c4102c"/>
<circle cx="300.35" cy="223.05" r="1.35" fill="#17603a"/>
<circle cx="298.30" cy="231.62" r="1.35" fill="#17603a"/>
<circle cx="302.40" cy="231.62" r="1.35" fill="#17603a"/>
<circle cx="300.35" cy="234.20" r="1.35" fill="#17603a"/>
<circle cx="298.50" cy="233.34" r="1.35" fill="#17603a"/>
<circle cx="302.20" cy="233.13" r="1.35" fill="#17603a"/>
<circle cx="317.70" cy="242.35" r="1.35" fill="#c4102c"/>
<circle cx="321.70" cy="241.71" r="1.35" fill="#c4102c"/>
<circle cx="319.70" cy="243.21" r="1.35" fill="#c4102c"/>
<circle cx="318.70" cy="241.92" r="1.35" fill="#c4102c"/>
<circle cx="321.10" cy="242.99" r="1.35" fill="#c4102c"/>
<circle cx="332.05" cy="227.34" r="1.35" fill="#17603a"/>
<circle cx="329.90" cy="235.92" r="1.35" fill="#17603a"/>
<circle cx="334.20" cy="236.99" r="1.35" fill="#17603a"/>
<circle cx="332.05" cy="239.13" r="1.35" fill="#17603a"/>
<circle cx="332.05" cy="244.50" r="1.35" fill="#17603a"/>
<circle cx="330.50" cy="238.49" r="1.35" fill="#17603a"/>
<circle cx="349.70" cy="236.99" r="1.35" fill="#c4102c"/>
<circle cx="353.00" cy="238.06" r="1.35" fill="#c4102c"/>
<circle cx="351.30" cy="240.21" r="1.35" fill="#c4102c"/>
<circle cx="349.70" cy="242.78" r="1.35" fill="#c4102c"/>
<circle cx="353.30" cy="244.07" r="1.35" fill="#c4102c"/>
<circle cx="351.50" cy="245.35" r="1.35" fill="#c4102c"/>
<circle cx="350.00" cy="247.07" r="1.35" fill="#c4102c"/>
<circle cx="361.50" cy="245.57" r="1.35" fill="#17603a"/>
<circle cx="366.10" cy="246.21" r="1.35" fill="#17603a"/>
<circle cx="363.85" cy="247.07" r="1.35" fill="#17603a"/>
<circle cx="362.00" cy="248.79" r="1.35" fill="#17603a"/>
<circle cx="365.80" cy="248.36" r="1.35" fill="#17603a"/>
<circle cx="363.85" cy="254.15" r="1.35" fill="#17603a"/>
<line x1="254.30" y1="182.80" x2="267.80" y2="182.80" stroke="#222" stroke-width="1.0"/>
<text x="261.50" y="183.83" font-size="10.0" text-anchor="middle" fill="#151515" stroke="#151515" stroke-width="0.35">*</text>
<line x1="285.10" y1="215.00" x2="298.60" y2="215.00" stroke="#222" stroke-width="1.0"/>
<text x="290.20" y="215.33" font-size="10.0" text-anchor="middle" fill="#151515" stroke="#151515" stroke-width="0.35">*</text>
<text x="294.40" y="215.33" font-size="10.0" text-anchor="middle" fill="#151515" stroke="#151515" stroke-width="0.35">*</text>
<line x1="317.40" y1="223.30" x2="330.00" y2="223.30" stroke="#222" stroke-width="1.0"/>
<text x="328.00" y="201.20" font-size="8.4" text-anchor="middle" transform="rotate(-90 328.00 201.20)" stroke="#222" stroke-width="0.22"><tspan font-style="italic">P</tspan> = 0.067</text>
<line x1="350.10" y1="229.40" x2="363.70" y2="229.40" stroke="#222" stroke-width="1.0"/>
<text x="356.70" y="229.53" font-size="10.0" text-anchor="middle" fill="#151515" stroke="#151515" stroke-width="0.35">*</text>
<text x="229.70" y="222.50" font-size="9.3" text-anchor="middle" transform="rotate(-90 229.70 222.50)" stroke="#222" stroke-width="0.22">Relative levels</text>
<text x="265.20" y="278.30" font-size="9" text-anchor="end" font-style="italic" transform="rotate(-45 265.20 278.30)" stroke="#222" stroke-width="0.22">Ifng</text>
<text x="296.90" y="278.30" font-size="9" text-anchor="end" font-style="italic" transform="rotate(-45 296.90 278.30)" stroke="#222" stroke-width="0.22">Il1b</text>
<text x="328.60" y="278.30" font-size="9" text-anchor="end" font-style="italic" transform="rotate(-45 328.60 278.30)" stroke="#222" stroke-width="0.22">Tnfa</text>
<text x="360.40" y="278.30" font-size="9" text-anchor="end" font-style="italic" transform="rotate(-45 360.40 278.30)" stroke="#222" stroke-width="0.22">Il10</text>
<text x="380.85" y="164.70" font-size="16.4" fill="#111" font-weight="bold" stroke="#111" stroke-width="0.22">H</text>
<circle cx="407.10" cy="165.10" r="1.15" fill="#c4102c"/>
<text x="421.00" y="168.60" font-size="9.2" fill="#d83a48" stroke="#d83a48" stroke-width="0.22">CM</text>
<circle cx="448.90" cy="165.10" r="1.15" fill="#17603a"/>
<text x="458.70" y="168.60" font-size="9.2" fill="#3f9462" stroke="#3f9462" stroke-width="0.22">CM + RR-11a</text>
<line x1="428.20" y1="193.50" x2="428.20" y2="266.40" stroke="#1a1a1a" stroke-width="1.2"/>
<line x1="423.50" y1="194.00" x2="428.20" y2="194.00" stroke="#1a1a1a" stroke-width="1.2"/>
<text x="421.30" y="197.15" font-size="9" text-anchor="end" stroke="#222" stroke-width="0.22">200</text>
<line x1="423.50" y1="211.97" x2="428.20" y2="211.97" stroke="#1a1a1a" stroke-width="1.2"/>
<text x="421.30" y="215.12" font-size="9" text-anchor="end" stroke="#222" stroke-width="0.22">150</text>
<line x1="423.50" y1="229.95" x2="428.20" y2="229.95" stroke="#1a1a1a" stroke-width="1.2"/>
<text x="421.30" y="233.10" font-size="9" text-anchor="end" stroke="#222" stroke-width="0.22">100</text>
<line x1="423.50" y1="247.92" x2="428.20" y2="247.92" stroke="#1a1a1a" stroke-width="1.2"/>
<text x="421.30" y="251.07" font-size="9" text-anchor="end" stroke="#222" stroke-width="0.22">50</text>
<line x1="423.50" y1="265.90" x2="428.20" y2="265.90" stroke="#1a1a1a" stroke-width="1.2"/>
<text x="421.30" y="269.05" font-size="9" text-anchor="end" stroke="#222" stroke-width="0.22">0</text>
<line x1="423.00" y1="265.90" x2="514.40" y2="265.90" stroke="#1a1a1a" stroke-width="1.2"/>
<line x1="441.50" y1="265.90" x2="441.50" y2="271.20" stroke="#1a1a1a" stroke-width="1.3"/>
<line x1="470.50" y1="265.90" x2="470.50" y2="271.20" stroke="#1a1a1a" stroke-width="1.3"/>
<line x1="500.50" y1="265.90" x2="500.50" y2="271.20" stroke="#1a1a1a" stroke-width="1.3"/>
<rect x="432.32" y="236.06" width="6.85" height="29.84" fill="#fff" stroke="#e05a70" stroke-width="0.85"/>
<rect x="443.43" y="231.03" width="6.85" height="34.87" fill="#fff" stroke="#62a880" stroke-width="0.85"/>
<line x1="435.75" y1="233.19" x2="435.75" y2="238.94" stroke="#3a403a" stroke-width="0.9"/>
<line x1="433.95" y1="233.19" x2="437.55" y2="233.19" stroke="#3a403a" stroke-width="0.9"/>
<line x1="433.95" y1="238.94" x2="437.55" y2="238.94" stroke="#3a403a" stroke-width="0.9"/>
<line x1="446.85" y1="225.28" x2="446.85" y2="236.06" stroke="#3a403a" stroke-width="0.9"/>
<line x1="445.05" y1="225.28" x2="448.65" y2="225.28" stroke="#3a403a" stroke-width="0.9"/>
<line x1="445.05" y1="236.06" x2="448.65" y2="236.06" stroke="#3a403a" stroke-width="0.9"/>
<rect x="461.62" y="234.98" width="6.85" height="30.92" fill="#fff" stroke="#e05a70" stroke-width="0.85"/>
<rect x="472.73" y="211.26" width="6.85" height="54.64" fill="#fff" stroke="#62a880" stroke-width="0.85"/>
<line x1="465.05" y1="232.11" x2="465.05" y2="237.14" stroke="#3a403a" stroke-width="0.9"/>
<line x1="463.25" y1="232.11" x2="466.85" y2="232.11" stroke="#3a403a" stroke-width="0.9"/>
<line x1="463.25" y1="237.14" x2="466.85" y2="237.14" stroke="#3a403a" stroke-width="0.9"/>
<line x1="476.15" y1="197.81" x2="476.15" y2="223.48" stroke="#3a403a" stroke-width="0.9"/>
<line x1="474.35" y1="197.81" x2="477.95" y2="197.81" stroke="#3a403a" stroke-width="0.9"/>
<line x1="474.35" y1="223.48" x2="477.95" y2="223.48" stroke="#3a403a" stroke-width="0.9"/>
<rect x="491.12" y="243.61" width="6.85" height="22.29" fill="#fff" stroke="#e05a70" stroke-width="0.85"/>
<rect x="502.23" y="223.48" width="6.85" height="42.42" fill="#fff" stroke="#62a880" stroke-width="0.85"/>
<line x1="494.55" y1="242.17" x2="494.55" y2="244.69" stroke="#3a403a" stroke-width="0.9"/>
<line x1="492.75" y1="242.17" x2="496.35" y2="242.17" stroke="#3a403a" stroke-width="0.9"/>
<line x1="492.75" y1="244.69" x2="496.35" y2="244.69" stroke="#3a403a" stroke-width="0.9"/>
<line x1="505.65" y1="217.73" x2="505.65" y2="228.51" stroke="#3a403a" stroke-width="0.9"/>
<line x1="503.85" y1="217.73" x2="507.45" y2="217.73" stroke="#3a403a" stroke-width="0.9"/>
<line x1="503.85" y1="228.51" x2="507.45" y2="228.51" stroke="#3a403a" stroke-width="0.9"/>
<circle cx="433.40" cy="233.54" r="1.35" fill="#c4102c"/>
<circle cx="438.40" cy="234.62" r="1.35" fill="#c4102c"/>
<circle cx="435.50" cy="242.53" r="1.35" fill="#c4102c"/>
<circle cx="446.85" cy="222.76" r="1.35" fill="#17603a"/>
<circle cx="446.85" cy="229.23" r="1.35" fill="#17603a"/>
<circle cx="446.85" cy="241.81" r="1.35" fill="#17603a"/>
<circle cx="462.90" cy="232.11" r="1.35" fill="#c4102c"/>
<circle cx="467.00" cy="231.75" r="1.35" fill="#c4102c"/>
<circle cx="465.10" cy="239.66" r="1.35" fill="#c4102c"/>
<circle cx="473.70" cy="197.81" r="1.35" fill="#17603a"/>
<circle cx="479.10" cy="200.26" r="1.35" fill="#17603a"/>
<circle cx="476.15" cy="235.70" r="1.35" fill="#17603a"/>
<circle cx="494.60" cy="241.45" r="1.35" fill="#c4102c"/>
<circle cx="492.20" cy="244.33" r="1.35" fill="#c4102c"/>
<circle cx="497.00" cy="244.33" r="1.35" fill="#c4102c"/>
<circle cx="503.80" cy="216.29" r="1.35" fill="#17603a"/>
<circle cx="507.60" cy="216.29" r="1.35" fill="#17603a"/>
<circle cx="505.65" cy="228.51" r="1.35" fill="#17603a"/>
<text x="441.70" y="210.40" font-size="9" text-anchor="middle" stroke="#222" stroke-width="0.22">n.s.</text>
<line x1="435.50" y1="214.00" x2="445.70" y2="214.00" stroke="#222" stroke-width="1.0"/>
<line x1="465.30" y1="192.00" x2="475.90" y2="192.00" stroke="#222" stroke-width="1.0"/>
<text x="471.30" y="192.83" font-size="10.0" text-anchor="middle" fill="#151515" stroke="#151515" stroke-width="0.35">*</text>
<line x1="494.60" y1="209.80" x2="504.70" y2="209.80" stroke="#222" stroke-width="1.0"/>
<text x="499.90" y="210.13" font-size="10.0" text-anchor="middle" fill="#151515" stroke="#151515" stroke-width="0.35">*</text>
<text x="389.20" y="229.50" font-size="9.2" text-anchor="middle" transform="rotate(-90 389.20 229.50)" stroke="#222" stroke-width="0.22">Tumor cell lysis</text>
<text x="397.70" y="231.20" font-size="9" text-anchor="middle" transform="rotate(-90 397.70 231.20)" stroke="#222" stroke-width="0.22">(percentage of control)</text>
<text x="444.60" y="279.90" font-size="9" text-anchor="end" transform="rotate(-45 444.60 279.90)" stroke="#222" stroke-width="0.22">1:1</text>
<text x="473.90" y="279.90" font-size="9" text-anchor="end" transform="rotate(-45 473.90 279.90)" stroke="#222" stroke-width="0.22">1:10</text>
<text x="503.40" y="279.90" font-size="9" text-anchor="end" transform="rotate(-45 503.40 279.90)" stroke="#222" stroke-width="0.22">1:100</text>
<text x="94.50" y="162.95" font-size="16.4" fill="#111" font-weight="bold" stroke="#111" stroke-width="0.22">F</text>
<text x="126.50" y="161.80" font-size="9" stroke="#222" stroke-width="0.22">Activated CD8<tspan font-size="5.2" dy="-3.1">+</tspan></text>
<text x="129.40" y="173.20" font-size="9" stroke="#222" stroke-width="0.22">T-cell signature</text>
<defs><linearGradient id="rb" x1="0" x2="1" y1="0" y2="0"><stop offset="0" stop-color="#dc4a5c"/><stop offset="0.32" stop-color="#e66878"/><stop offset="0.36" stop-color="#eeb4c4"/><stop offset="0.5" stop-color="#eedce8"/><stop offset="0.66" stop-color="#dcd4ea"/><stop offset="0.78" stop-color="#bcb4dc"/><stop offset="0.8" stop-color="#7a72bc"/><stop offset="1" stop-color="#5650a8"/></linearGradient></defs>
<rect x="95.20" y="176.50" width="113.00" height="111.60" fill="#f6f6f6" stroke="#dcdcdc" stroke-width="0.6"/>
<rect x="110.50" y="178.60" width="94.00" height="45.00" fill="#fff"/>
<line x1="110.50" y1="179.50" x2="204.50" y2="179.50" stroke="#ececec" stroke-width="0.4"/>
<line x1="109.30" y1="179.50" x2="110.50" y2="179.50" stroke="#999" stroke-width="0.4"/>
<text x="108.90" y="180.40" font-size="2.7" text-anchor="end" fill="#444">0.05</text>
<line x1="110.50" y1="184.86" x2="204.50" y2="184.86" stroke="#ececec" stroke-width="0.4"/>
<line x1="109.30" y1="184.86" x2="110.50" y2="184.86" stroke="#999" stroke-width="0.4"/>
<text x="108.90" y="185.76" font-size="2.7" text-anchor="end" fill="#444">0.00</text>
<line x1="110.50" y1="190.22" x2="204.50" y2="190.22" stroke="#ececec" stroke-width="0.4"/>
<line x1="109.30" y1="190.22" x2="110.50" y2="190.22" stroke="#999" stroke-width="0.4"/>
<text x="108.90" y="191.12" font-size="2.7" text-anchor="end" fill="#444">-0.05</text>
<line x1="110.50" y1="195.58" x2="204.50" y2="195.58" stroke="#ececec" stroke-width="0.4"/>
<line x1="109.30" y1="195.58" x2="110.50" y2="195.58" stroke="#999" stroke-width="0.4"/>
<text x="108.90" y="196.48" font-size="2.7" text-anchor="end" fill="#444">-0.10</text>
<line x1="110.50" y1="200.94" x2="204.50" y2="200.94" stroke="#ececec" stroke-width="0.4"/>
<line x1="109.30" y1="200.94" x2="110.50" y2="200.94" stroke="#999" stroke-width="0.4"/>
<text x="108.90" y="201.84" font-size="2.7" text-anchor="end" fill="#444">-0.15</text>
<line x1="110.50" y1="206.30" x2="204.50" y2="206.30" stroke="#ececec" stroke-width="0.4"/>
<line x1="109.30" y1="206.30" x2="110.50" y2="206.30" stroke="#999" stroke-width="0.4"/>
<text x="108.90" y="207.20" font-size="2.7" text-anchor="end" fill="#444">-0.20</text>
<line x1="110.50" y1="211.66" x2="204.50" y2="211.66" stroke="#ececec" stroke-width="0.4"/>
<line x1="109.30" y1="211.66" x2="110.50" y2="211.66" stroke="#999" stroke-width="0.4"/>
<text x="108.90" y="212.56" font-size="2.7" text-anchor="end" fill="#444">-0.25</text>
<line x1="110.50" y1="217.02" x2="204.50" y2="217.02" stroke="#ececec" stroke-width="0.4"/>
<line x1="109.30" y1="217.02" x2="110.50" y2="217.02" stroke="#999" stroke-width="0.4"/>
<text x="108.90" y="217.92" font-size="2.7" text-anchor="end" fill="#444">-0.30</text>
<line x1="110.50" y1="222.38" x2="204.50" y2="222.38" stroke="#ececec" stroke-width="0.4"/>
<line x1="109.30" y1="222.38" x2="110.50" y2="222.38" stroke="#999" stroke-width="0.4"/>
<text x="108.90" y="223.28" font-size="2.7" text-anchor="end" fill="#444">-0.35</text>
<line x1="110.50" y1="178.60" x2="110.50" y2="223.60" stroke="#999" stroke-width="0.5"/>
<path d="M110.8,182.0 L112.0,180.9 L113.3,180.6 L115.0,183.0 L116.8,182.0 L119.1,184.1 L121.5,186.8 L124.0,189.6 L126.6,192.2 L128.9,191.4 L130.0,193.0 L132.4,189.5 L134.5,191.8 L137.0,194.2 L140.4,198.0 L143.0,200.6 L146.2,202.6 L149.0,201.5 L152.0,203.8 L155.0,202.5 L158.0,204.2 L161.3,204.5 L164.0,207.3 L166.0,206.0 L167.5,208.9 L170.0,211.0 L172.5,213.3 L175.6,215.8 L178.0,213.9 L180.5,216.3 L183.0,218.2 L185.0,220.3 L187.5,217.0 L189.5,215.0 L191.3,212.0 L193.1,207.0 L195.0,205.5 L197.5,200.1 L199.0,197.5 L200.0,194.5 L201.0,191.0 L201.9,187.0 L203.0,184.5 L203.9,183.0" stroke="#78c040" stroke-width="0.9" fill="none" stroke-linejoin="round"/>
<text x="146.90" y="192.70" font-size="8.7" fill="#1a1a1a" stroke="#1a1a1a" stroke-width="0.22">NES = –2.38</text>
<text x="147.40" y="203.60" font-size="8.7" fill="#1a1a1a" stroke="#1a1a1a" stroke-width="0.22">FDR = 0</text>
<rect x="110.50" y="223.80" width="94.00" height="14.20" fill="#fff"/>
<line x1="112.60" y1="223.80" x2="112.60" y2="237.80" stroke="#303030" stroke-width="0.55" opacity="0.45"/>
<line x1="116.10" y1="223.80" x2="116.10" y2="237.80" stroke="#303030" stroke-width="0.55" opacity="0.5"/>
<line x1="126.70" y1="223.80" x2="126.70" y2="237.80" stroke="#303030" stroke-width="0.55" opacity="0.55"/>
<line x1="129.60" y1="223.80" x2="129.60" y2="237.80" stroke="#303030" stroke-width="0.55" opacity="0.5"/>
<line x1="130.60" y1="223.80" x2="130.60" y2="237.80" stroke="#303030" stroke-width="0.55" opacity="0.45"/>
<line x1="141.00" y1="223.80" x2="141.00" y2="237.80" stroke="#303030" stroke-width="0.55" opacity="0.55"/>
<line x1="145.70" y1="223.80" x2="145.70" y2="237.80" stroke="#303030" stroke-width="0.55" opacity="0.5"/>
<line x1="150.00" y1="223.80" x2="150.00" y2="237.80" stroke="#303030" stroke-width="0.55" opacity="0.45"/>
<line x1="153.10" y1="223.80" x2="153.10" y2="237.80" stroke="#303030" stroke-width="0.55" opacity="0.5"/>
<line x1="157.40" y1="223.80" x2="157.40" y2="237.80" stroke="#303030" stroke-width="0.55" opacity="0.45"/>
<line x1="160.50" y1="223.80" x2="160.50" y2="237.80" stroke="#303030" stroke-width="0.55" opacity="0.4"/>
<line x1="162.50" y1="223.80" x2="162.50" y2="237.80" stroke="#303030" stroke-width="0.55" opacity="0.5"/>
<line x1="168.00" y1="223.80" x2="168.00" y2="237.80" stroke="#303030" stroke-width="0.55" opacity="0.55"/>
<line x1="171.50" y1="223.80" x2="171.50" y2="237.80" stroke="#303030" stroke-width="0.55" opacity="0.45"/>
<line x1="176.20" y1="223.80" x2="176.20" y2="237.80" stroke="#303030" stroke-width="0.55" opacity="0.5"/>
<line x1="178.00" y1="223.80" x2="178.00" y2="237.80" stroke="#303030" stroke-width="0.55" opacity="0.5"/>
<line x1="185.00" y1="223.80" x2="185.00" y2="237.80" stroke="#303030" stroke-width="0.55" opacity="0.6"/>
<line x1="186.00" y1="223.80" x2="186.00" y2="237.80" stroke="#303030" stroke-width="0.55" opacity="0.65"/>
<line x1="187.00" y1="223.80" x2="187.00" y2="237.80" stroke="#303030" stroke-width="0.55" opacity="0.55"/>
<line x1="188.20" y1="223.80" x2="188.20" y2="237.80" stroke="#303030" stroke-width="0.55" opacity="0.7"/>
<line x1="189.60" y1="223.80" x2="189.60" y2="237.80" stroke="#303030" stroke-width="0.55" opacity="0.6"/>
<line x1="191.00" y1="223.80" x2="191.00" y2="237.80" stroke="#303030" stroke-width="0.55" opacity="0.75"/>
<line x1="192.30" y1="223.80" x2="192.30" y2="237.80" stroke="#303030" stroke-width="0.55" opacity="0.65"/>
<line x1="193.50" y1="223.80" x2="193.50" y2="237.80" stroke="#303030" stroke-width="0.55" opacity="0.7"/>
<line x1="195.00" y1="223.80" x2="195.00" y2="237.80" stroke="#303030" stroke-width="0.55" opacity="0.8"/>
<line x1="196.00" y1="223.80" x2="196.00" y2="237.80" stroke="#303030" stroke-width="0.55" opacity="0.6"/>
<line x1="197.20" y1="223.80" x2="197.20" y2="237.80" stroke="#303030" stroke-width="0.55" opacity="0.75"/>
<line x1="198.40" y1="223.80" x2="198.40" y2="237.80" stroke="#303030" stroke-width="0.55" opacity="0.8"/>
<line x1="199.80" y1="223.80" x2="199.80" y2="237.80" stroke="#303030" stroke-width="0.55" opacity="0.7"/>
<line x1="201.00" y1="223.80" x2="201.00" y2="237.80" stroke="#303030" stroke-width="0.55" opacity="0.6"/>
<rect x="110.50" y="238.20" width="93.90" height="3.50" fill="url(#rb)"/>
<line x1="111.60" y1="243.30" x2="144.00" y2="243.30" stroke="#f07888" stroke-width="0.6"/>
<rect x="110.50" y="245.40" width="94.00" height="26.50" fill="#fff"/>
<line x1="110.50" y1="254.00" x2="204.50" y2="254.00" stroke="#ececec" stroke-width="0.4"/>
<line x1="110.50" y1="261.30" x2="204.50" y2="261.30" stroke="#ececec" stroke-width="0.4"/>
<line x1="110.50" y1="268.40" x2="204.50" y2="268.40" stroke="#ececec" stroke-width="0.4"/>
<line x1="110.50" y1="246.30" x2="204.00" y2="246.30" stroke="#a0a0a0" stroke-width="1.0"/>
<line x1="110.50" y1="245.40" x2="110.50" y2="271.90" stroke="#999" stroke-width="0.5"/>
<line x1="110.50" y1="271.90" x2="204.50" y2="271.90" stroke="#bbb" stroke-width="0.4"/>
<text x="111.40" y="256.50" font-size="9.3" fill="#1e1e1e" stroke="#1e1e1e" stroke-width="0.22"><tspan font-style="italic">CLOCK</tspan>-high</text>
<text x="203.40" y="257.00" font-size="9.3" text-anchor="end" fill="#1e1e1e" stroke="#1e1e1e" stroke-width="0.22">-low</text>
<line x1="160.00" y1="269.60" x2="193.00" y2="269.60" stroke="#7a7ad0" stroke-width="0.6"/>
<text x="110.50" y="275.20" font-size="2.6" text-anchor="middle" fill="#444">0</text>
<text x="128.70" y="275.20" font-size="2.6" text-anchor="middle" fill="#444">2,500</text>
<text x="146.90" y="275.20" font-size="2.6" text-anchor="middle" fill="#444">5,000</text>
<text x="165.10" y="275.20" font-size="2.6" text-anchor="middle" fill="#444">7,500</text>
<text x="183.30" y="275.20" font-size="2.6" text-anchor="middle" fill="#444">10,000</text>
<text x="201.50" y="275.20" font-size="2.6" text-anchor="middle" fill="#444">12,500</text>
<text x="109.00" y="249.40" font-size="2.7" text-anchor="end" fill="#444">5</text>
<line x1="109.40" y1="248.50" x2="110.50" y2="248.50" stroke="#999" stroke-width="0.4"/>
<text x="109.00" y="255.20" font-size="2.7" text-anchor="end" fill="#444">0</text>
<line x1="109.40" y1="254.30" x2="110.50" y2="254.30" stroke="#999" stroke-width="0.4"/>
<text x="109.00" y="262.40" font-size="2.7" text-anchor="end" fill="#444">-10</text>
<line x1="109.40" y1="261.50" x2="110.50" y2="261.50" stroke="#999" stroke-width="0.4"/>
<text x="109.00" y="269.50" font-size="2.7" text-anchor="end" fill="#444">-20</text>
<line x1="109.40" y1="268.60" x2="110.50" y2="268.60" stroke="#999" stroke-width="0.4"/>
<text x="157.00" y="279.20" font-size="3.1" text-anchor="middle" fill="#333" font-weight="bold">Rank in ordered dataset</text>
<rect x="112.40" y="281.20" width="80.40" height="6.10" fill="#fff" stroke="#9a9a9a" stroke-width="0.5"/>
<text x="114.50" y="285.40" font-size="2.8" fill="#333">— Enrichment profile   — Hits      Ranking metric scores</text>
<text x="99.60" y="200.80" font-size="3.1" text-anchor="middle" fill="#333" font-weight="bold" transform="rotate(-90 99.60 200.80)">Enrichment score (ES)</text>
<text x="102.20" y="256.50" font-size="2.7" text-anchor="middle" fill="#444" transform="rotate(-90 102.20 256.50)">Ranked list metric (PreRanked)</text>
<text x="7.30" y="321.10" font-size="16.4" fill="#111" font-weight="bold" stroke="#111" stroke-width="0.22">I</text>
<text x="51.80" y="340.20" font-size="9.2" stroke="#222" stroke-width="0.22">LGMN (ng/mL)</text>
<line x1="46.00" y1="343.60" x2="112.60" y2="343.60" stroke="#666" stroke-width="0.9"/>
<text x="54.60" y="356.50" font-size="9" text-anchor="middle" stroke="#222" stroke-width="0.22">0</text>
<text x="80.00" y="356.50" font-size="9" text-anchor="middle" stroke="#222" stroke-width="0.22">10</text>
<text x="101.90" y="356.50" font-size="9" text-anchor="middle" stroke="#222" stroke-width="0.22">25</text>
<text x="14.50" y="374.60" font-size="9" stroke="#222" stroke-width="0.22">PD-L1</text>
<text x="19.00" y="396.00" font-size="9" stroke="#222" stroke-width="0.22">Actin</text>
<defs><filter id="bl1" x="-20%" y="-50%" width="140%" height="200%"><feGaussianBlur stdDeviation="0.9"/></filter><filter id="bl2" x="-20%" y="-50%" width="140%" height="200%"><feGaussianBlur stdDeviation="0.6"/></filter><filter id="bl3" x="-20%" y="-50%" width="140%" height="200%"><feGaussianBlur stdDeviation="1.6"/></filter><linearGradient id="ipd" x1="0" x2="0" y1="0" y2="1"><stop offset="0" stop-color="#c6c6c6"/><stop offset="0.4" stop-color="#c2c2c2"/><stop offset="0.65" stop-color="#d2d2d2"/><stop offset="1" stop-color="#dadada"/></linearGradient></defs>
<svg x="41.8" y="358.7" width="72.9" height="21.9" overflow="hidden">
<rect x="0.00" y="0.00" width="72.90" height="21.90" fill="url(#ipd)"/>
<rect x="23.50" y="0.00" width="4.00" height="21.90" fill="#e2e2e2" filter="url(#bl1)"/>
<rect x="47.50" y="0.00" width="3.50" height="21.90" fill="#e0e0e0" filter="url(#bl1)"/>
<ellipse cx="11.5" cy="11.5" rx="11" ry="2.8" fill="#8e8e8e" filter="url(#bl1)"/>
<ellipse cx="18.5" cy="10.8" rx="4.5" ry="2.4" fill="#4a4a4a" filter="url(#bl1)"/>
<ellipse cx="36.5" cy="10.4" rx="9" ry="2.4" fill="#909090" filter="url(#bl1)"/>
<ellipse cx="43.8" cy="10.4" rx="2.6" ry="2.4" fill="#555" filter="url(#bl1)"/>
<ellipse cx="61.5" cy="13.5" rx="10.5" ry="4" fill="#a0a0a0" filter="url(#bl3)"/>
<ellipse cx="61.5" cy="9.4" rx="10.8" ry="2.6" fill="#2a2a2a" filter="url(#bl2)"/>
</svg>
<svg x="41.8" y="383.6" width="72.9" height="20.8" overflow="hidden">
<rect x="0.00" y="0.00" width="72.90" height="20.80" fill="#e2e2e2"/>
<rect x="0.00" y="0.00" width="72.90" height="8.00" fill="#dcdcdc" filter="url(#bl3)"/>
<ellipse cx="14.0" cy="14.3" rx="10.4" ry="1.9" fill="#111" filter="url(#bl2)"/>
<ellipse cx="38.3" cy="14.3" rx="9.6" ry="1.9" fill="#111" filter="url(#bl2)"/>
<ellipse cx="62.4" cy="14.3" rx="9.6" ry="1.9" fill="#111" filter="url(#bl2)"/>
</svg>
<text x="132.80" y="319.60" font-size="16.4" fill="#111" font-weight="bold" stroke="#111" stroke-width="0.22">J</text>
<line x1="165.30" y1="319.49" x2="165.30" y2="390.30" stroke="#1a1a1a" stroke-width="1.2"/>
<line x1="160.60" y1="319.99" x2="165.30" y2="319.99" stroke="#1a1a1a" stroke-width="1.2"/>
<text x="158.40" y="323.14" font-size="9" text-anchor="end" stroke="#222" stroke-width="0.22">3</text>
<line x1="160.60" y1="343.26" x2="165.30" y2="343.26" stroke="#1a1a1a" stroke-width="1.2"/>
<text x="158.40" y="346.41" font-size="9" text-anchor="end" stroke="#222" stroke-width="0.22">2</text>
<line x1="160.60" y1="366.53" x2="165.30" y2="366.53" stroke="#1a1a1a" stroke-width="1.2"/>
<text x="158.40" y="369.68" font-size="9" text-anchor="end" stroke="#222" stroke-width="0.22">1</text>
<line x1="160.60" y1="389.80" x2="165.30" y2="389.80" stroke="#1a1a1a" stroke-width="1.2"/>
<text x="158.40" y="392.95" font-size="9" text-anchor="end" stroke="#222" stroke-width="0.22">0</text>
<line x1="160.10" y1="389.80" x2="209.20" y2="389.80" stroke="#1a1a1a" stroke-width="1.2"/>
<line x1="174.50" y1="389.80" x2="174.50" y2="395.10" stroke="#1a1a1a" stroke-width="1.3"/>
<line x1="186.50" y1="389.80" x2="186.50" y2="395.10" stroke="#1a1a1a" stroke-width="1.3"/>
<line x1="200.50" y1="389.80" x2="200.50" y2="395.10" stroke="#1a1a1a" stroke-width="1.3"/>
<rect x="170.03" y="366.53" width="7.85" height="23.27" fill="#fff" stroke="#e05a70" stroke-width="0.85"/>
<rect x="183.03" y="365.37" width="7.85" height="24.43" fill="#fff" stroke="#62a880" stroke-width="0.85"/>
<rect x="196.43" y="335.12" width="7.75" height="54.68" fill="#fff" stroke="#8088c8" stroke-width="0.85"/>
<line x1="186.90" y1="363.74" x2="186.90" y2="367.00" stroke="#3a403a" stroke-width="0.9"/>
<line x1="185.10" y1="363.74" x2="188.70" y2="363.74" stroke="#3a403a" stroke-width="0.9"/>
<line x1="185.10" y1="367.00" x2="188.70" y2="367.00" stroke="#3a403a" stroke-width="0.9"/>
<line x1="200.30" y1="326.97" x2="200.30" y2="343.26" stroke="#3a403a" stroke-width="0.9"/>
<line x1="198.50" y1="326.97" x2="202.10" y2="326.97" stroke="#3a403a" stroke-width="0.9"/>
<line x1="198.50" y1="343.26" x2="202.10" y2="343.26" stroke="#3a403a" stroke-width="0.9"/>
<circle cx="171.40" cy="366.53" r="1.35" fill="#c4102c"/>
<circle cx="174.00" cy="366.53" r="1.35" fill="#c4102c"/>
<circle cx="176.60" cy="366.53" r="1.35" fill="#c4102c"/>
<circle cx="186.90" cy="363.04" r="1.35" fill="#17603a"/>
<circle cx="184.70" cy="366.06" r="1.35" fill="#17603a"/>
<circle cx="189.10" cy="366.53" r="1.35" fill="#17603a"/>
<circle cx="200.30" cy="323.48" r="1.35" fill="#2a3890"/>
<circle cx="200.30" cy="331.62" r="1.35" fill="#2a3890"/>
<circle cx="200.30" cy="349.78" r="1.35" fill="#2a3890"/>
<line x1="174.60" y1="312.70" x2="201.20" y2="312.70" stroke="#222" stroke-width="1.0"/>
<text x="187.80" y="312.13" font-size="10.0" text-anchor="middle" fill="#151515" stroke="#151515" stroke-width="0.35">*</text>
<text x="180.30" y="349.70" font-size="9" text-anchor="middle" stroke="#222" stroke-width="0.22">n.s.</text>
<line x1="170.60" y1="354.70" x2="189.00" y2="354.70" stroke="#222" stroke-width="1.0"/>
<text x="147.20" y="355.80" font-size="9.3" text-anchor="middle" transform="rotate(-90 147.20 355.80)" stroke="#222" stroke-width="0.22">Relative levels</text>
<text x="176.60" y="396.60" font-size="9" text-anchor="end" transform="rotate(-90 176.60 396.60)" stroke="#222" stroke-width="0.22">0</text>
<text x="189.50" y="396.60" font-size="9" text-anchor="end" transform="rotate(-90 189.50 396.60)" stroke="#222" stroke-width="0.22">10</text>
<text x="202.90" y="396.60" font-size="9" text-anchor="end" transform="rotate(-90 202.90 396.60)" stroke="#222" stroke-width="0.22">25</text>
<line x1="166.00" y1="410.40" x2="207.30" y2="410.40" stroke="#222" stroke-width="1.0"/>
<text x="151.40" y="424.00" font-size="9.2" stroke="#222" stroke-width="0.22">LGMN (ng/mL)</text>
<text x="224.55" y="319.75" font-size="16.4" fill="#111" font-weight="bold" stroke="#111" stroke-width="0.22">K</text>
<text x="274.20" y="346.20" font-size="9.2" transform="rotate(-90 274.20 346.20)" stroke="#222" stroke-width="0.22">Control</text>
<text x="304.50" y="346.20" font-size="9.2" transform="rotate(-90 304.50 346.20)" stroke="#222" stroke-width="0.22">RR-11a</text>
<text x="223.90" y="364.40" font-size="9" stroke="#222" stroke-width="0.22">PD-L1</text>
<text x="228.20" y="391.30" font-size="9" stroke="#222" stroke-width="0.22">Actin</text>
<svg x="256.6" y="348.8" width="61.0" height="22.4" overflow="hidden">
<rect x="0.00" y="0.00" width="61.00" height="22.40" fill="#d6d6d6"/>
<ellipse cx="13" cy="11" rx="14" ry="11.5" fill="#9a9a9a" filter="url(#bl3)"/>
<ellipse cx="10" cy="3" rx="10" ry="4" fill="#555" filter="url(#bl3)"/>
<ellipse cx="13.5" cy="9.2" rx="13.5" ry="3.6" fill="#101010" filter="url(#bl2)"/>
<ellipse cx="45.5" cy="10.2" rx="11.5" ry="1.7" fill="#333" filter="url(#bl2)"/>
<ellipse cx="54.5" cy="10.0" rx="3" ry="1.8" fill="#1a1a1a" filter="url(#bl2)"/>
</svg>
<svg x="256.6" y="376.7" width="61.0" height="19.4" overflow="hidden">
<rect x="0.00" y="0.00" width="61.00" height="19.40" fill="#cfcfcf"/>
<ellipse cx="13.2" cy="12.2" rx="12.6" ry="2.9" fill="#0c0c0c" filter="url(#bl2)"/>
<ellipse cx="45.5" cy="11.8" rx="11.6" ry="2.7" fill="#0c0c0c" filter="url(#bl2)"/>
</svg>
<text x="329.30" y="319.25" font-size="16.4" fill="#111" font-weight="bold" stroke="#111" stroke-width="0.22">L</text>
<line x1="364.40" y1="318.20" x2="364.40" y2="395.10" stroke="#1a1a1a" stroke-width="1.2"/>
<line x1="359.70" y1="318.70" x2="364.40" y2="318.70" stroke="#1a1a1a" stroke-width="1.2"/>
<text x="357.50" y="321.85" font-size="9" text-anchor="end" stroke="#222" stroke-width="0.22">1.2</text>
<line x1="359.70" y1="344.00" x2="364.40" y2="344.00" stroke="#1a1a1a" stroke-width="1.2"/>
<text x="357.50" y="347.15" font-size="9" text-anchor="end" stroke="#222" stroke-width="0.22">0.8</text>
<line x1="359.70" y1="369.30" x2="364.40" y2="369.30" stroke="#1a1a1a" stroke-width="1.2"/>
<text x="357.50" y="372.45" font-size="9" text-anchor="end" stroke="#222" stroke-width="0.22">0.4</text>
<line x1="359.70" y1="394.60" x2="364.40" y2="394.60" stroke="#1a1a1a" stroke-width="1.2"/>
<text x="357.50" y="397.75" font-size="9" text-anchor="end" stroke="#222" stroke-width="0.22">0.0</text>
<line x1="358.60" y1="394.60" x2="400.00" y2="394.60" stroke="#1a1a1a" stroke-width="1.2"/>
<line x1="373.50" y1="394.60" x2="373.50" y2="399.90" stroke="#1a1a1a" stroke-width="1.3"/>
<line x1="389.50" y1="394.60" x2="389.50" y2="399.90" stroke="#1a1a1a" stroke-width="1.3"/>
<rect x="369.32" y="331.35" width="9.55" height="63.25" fill="#fff" stroke="#e05a70" stroke-width="0.85"/>
<rect x="384.53" y="375.62" width="9.15" height="18.98" fill="#fff" stroke="#62a880" stroke-width="0.85"/>
<circle cx="371.00" cy="331.35" r="1.35" fill="#c4102c"/>
<circle cx="374.00" cy="331.35" r="1.35" fill="#c4102c"/>
<circle cx="377.00" cy="331.35" r="1.35" fill="#c4102c"/>
<circle cx="386.20" cy="376.57" r="1.35" fill="#17603a"/>
<circle cx="389.10" cy="374.99" r="1.35" fill="#17603a"/>
<circle cx="392.00" cy="375.31" r="1.35" fill="#17603a"/>
<line x1="374.60" y1="323.35" x2="393.40" y2="323.35" stroke="#222" stroke-width="1.0"/>
<text x="379.40" y="323.28" font-size="10.0" text-anchor="middle" fill="#151515" stroke="#151515" stroke-width="0.35">*</text>
<text x="383.90" y="323.28" font-size="10.0" text-anchor="middle" fill="#151515" stroke="#151515" stroke-width="0.35">*</text>
<text x="388.40" y="323.28" font-size="10.0" text-anchor="middle" fill="#151515" stroke="#151515" stroke-width="0.35">*</text>
<text x="339.20" y="357.00" font-size="9.3" text-anchor="middle" transform="rotate(-90 339.20 357.00)" stroke="#222" stroke-width="0.22">Relative levels</text>
<text x="377.60" y="408.40" font-size="9" text-anchor="end" transform="rotate(-45 377.60 408.40)" stroke="#222" stroke-width="0.22">Control</text>
<text x="391.70" y="408.60" font-size="9" text-anchor="end" transform="rotate(-45 391.70 408.60)" stroke="#222" stroke-width="0.22">RR-11a</text>
<text x="412.15" y="319.75" font-size="16.4" fill="#111" font-weight="bold" stroke="#111" stroke-width="0.22">M</text>
<line x1="458.70" y1="316.60" x2="458.70" y2="402.00" stroke="#1a1a1a" stroke-width="1.2"/>
<line x1="454.00" y1="317.10" x2="458.70" y2="317.10" stroke="#1a1a1a" stroke-width="1.2"/>
<text x="451.80" y="320.25" font-size="9" text-anchor="end" stroke="#222" stroke-width="0.22">1.5</text>
<line x1="454.00" y1="345.23" x2="458.70" y2="345.23" stroke="#1a1a1a" stroke-width="1.2"/>
<text x="451.80" y="348.38" font-size="9" text-anchor="end" stroke="#222" stroke-width="0.22">1.0</text>
<line x1="454.00" y1="373.37" x2="458.70" y2="373.37" stroke="#1a1a1a" stroke-width="1.2"/>
<text x="451.80" y="376.51" font-size="9" text-anchor="end" stroke="#222" stroke-width="0.22">0.5</text>
<line x1="454.00" y1="401.50" x2="458.70" y2="401.50" stroke="#1a1a1a" stroke-width="1.2"/>
<text x="451.80" y="404.65" font-size="9" text-anchor="end" stroke="#222" stroke-width="0.22">0.0</text>
<line x1="454.40" y1="401.50" x2="494.30" y2="401.50" stroke="#1a1a1a" stroke-width="1.2"/>
<line x1="468.50" y1="401.50" x2="468.50" y2="406.80" stroke="#1a1a1a" stroke-width="1.3"/>
<line x1="483.50" y1="401.50" x2="483.50" y2="406.80" stroke="#1a1a1a" stroke-width="1.3"/>
<rect x="464.62" y="345.23" width="8.75" height="56.27" fill="#fff" stroke="#e05a70" stroke-width="0.85"/>
<rect x="479.62" y="367.46" width="8.65" height="34.04" fill="#fff" stroke="#62a880" stroke-width="0.85"/>
<line x1="468.90" y1="337.07" x2="468.90" y2="353.39" stroke="#3a403a" stroke-width="0.9"/>
<line x1="467.10" y1="337.07" x2="470.70" y2="337.07" stroke="#3a403a" stroke-width="0.9"/>
<line x1="467.10" y1="353.39" x2="470.70" y2="353.39" stroke="#3a403a" stroke-width="0.9"/>
<line x1="483.90" y1="365.49" x2="483.90" y2="369.43" stroke="#3a403a" stroke-width="0.9"/>
<line x1="482.10" y1="365.49" x2="485.70" y2="365.49" stroke="#3a403a" stroke-width="0.9"/>
<line x1="482.10" y1="369.43" x2="485.70" y2="369.43" stroke="#3a403a" stroke-width="0.9"/>
<circle cx="468.90" cy="324.50" r="1.35" fill="#c4102c"/>
<circle cx="468.90" cy="341.50" r="1.35" fill="#c4102c"/>
<circle cx="468.90" cy="349.40" r="1.35" fill="#c4102c"/>
<circle cx="468.90" cy="364.40" r="1.35" fill="#c4102c"/>
<circle cx="480.00" cy="362.80" r="1.35" fill="#17603a"/>
<circle cx="483.90" cy="365.20" r="1.35" fill="#17603a"/>
<circle cx="487.50" cy="366.80" r="1.35" fill="#17603a"/>
<circle cx="480.80" cy="370.40" r="1.35" fill="#17603a"/>
<circle cx="485.30" cy="369.90" r="1.35" fill="#17603a"/>
<circle cx="488.00" cy="370.60" r="1.35" fill="#17603a"/>
<line x1="468.90" y1="316.60" x2="486.30" y2="316.60" stroke="#222" stroke-width="1.0"/>
<text x="474.30" y="316.43" font-size="10.0" text-anchor="middle" fill="#151515" stroke="#151515" stroke-width="0.35">*</text>
<text x="478.40" y="316.43" font-size="10.0" text-anchor="middle" fill="#151515" stroke="#151515" stroke-width="0.35">*</text>
<text x="422.60" y="360.00" font-size="9.4" text-anchor="middle" transform="rotate(-90 422.60 360.00)" stroke="#222" stroke-width="0.22">Relative <tspan font-style="italic">CD274</tspan></text>
<text x="433.40" y="360.60" font-size="9" text-anchor="middle" transform="rotate(-90 433.40 360.60)" stroke="#222" stroke-width="0.22">(PD-L1) level</text>
<text x="471.80" y="414.80" font-size="9" text-anchor="end" transform="rotate(-45 471.80 414.80)" stroke="#222" stroke-width="0.22">Control</text>
<text x="486.80" y="415.20" font-size="9" text-anchor="end" transform="rotate(-45 486.80 415.20)" stroke="#222" stroke-width="0.22">RR-11a</text>
<text x="1.10" y="449.10" font-size="16.4" fill="#111" font-weight="bold" stroke="#111" stroke-width="0.22">N</text>
<line x1="52.30" y1="471.40" x2="52.30" y2="592.40" stroke="#1a1a1a" stroke-width="1.2"/>
<line x1="47.60" y1="471.90" x2="52.30" y2="471.90" stroke="#1a1a1a" stroke-width="1.2"/>
<text x="45.40" y="475.05" font-size="9" text-anchor="end" stroke="#222" stroke-width="0.22">15.0</text>
<line x1="47.60" y1="501.90" x2="52.30" y2="501.90" stroke="#1a1a1a" stroke-width="1.2"/>
<text x="45.40" y="505.05" font-size="9" text-anchor="end" stroke="#222" stroke-width="0.22">12.5</text>
<line x1="47.60" y1="531.90" x2="52.30" y2="531.90" stroke="#1a1a1a" stroke-width="1.2"/>
<text x="45.40" y="535.05" font-size="9" text-anchor="end" stroke="#222" stroke-width="0.22">10.0</text>
<line x1="47.60" y1="561.90" x2="52.30" y2="561.90" stroke="#1a1a1a" stroke-width="1.2"/>
<text x="45.40" y="565.05" font-size="9" text-anchor="end" stroke="#222" stroke-width="0.22">7.5</text>
<line x1="47.60" y1="591.90" x2="52.30" y2="591.90" stroke="#1a1a1a" stroke-width="1.2"/>
<text x="45.40" y="595.05" font-size="9" text-anchor="end" stroke="#222" stroke-width="0.22">5.0</text>
<line x1="47.60" y1="591.90" x2="117.90" y2="591.90" stroke="#1a1a1a" stroke-width="1.2"/>
<line x1="52.50" y1="591.90" x2="52.50" y2="597.20" stroke="#1a1a1a" stroke-width="1.3"/>
<line x1="74.50" y1="591.90" x2="74.50" y2="597.20" stroke="#1a1a1a" stroke-width="1.3"/>
<line x1="95.50" y1="591.90" x2="95.50" y2="597.20" stroke="#1a1a1a" stroke-width="1.3"/>
<line x1="117.50" y1="591.90" x2="117.50" y2="597.20" stroke="#1a1a1a" stroke-width="1.3"/>
<text x="52.30" y="607.40" font-size="9" text-anchor="middle" stroke="#222" stroke-width="0.22">0</text>
<text x="74.02" y="607.40" font-size="9" text-anchor="middle" stroke="#222" stroke-width="0.22">3</text>
<text x="95.74" y="607.40" font-size="9" text-anchor="middle" stroke="#222" stroke-width="0.22">6</text>
<text x="117.46" y="607.40" font-size="9" text-anchor="middle" stroke="#222" stroke-width="0.22">9</text>
<text x="84.60" y="617.90" font-size="9" text-anchor="middle" stroke="#222" stroke-width="0.22"><tspan font-style="italic">CD274</tspan> (PD-L1)</text>
<text x="84.80" y="627.00" font-size="9" text-anchor="middle" stroke="#222" stroke-width="0.22">mRNA level (log<tspan font-size="5.5" dy="2.2">2</tspan><tspan dy="-2.2">)</tspan></text>
<text x="11.50" y="529.80" font-size="9.6" text-anchor="middle" transform="rotate(-90 11.50 529.80)" stroke="#222" stroke-width="0.22">mRNA level (log<tspan font-size="5.8" dy="1.6">2</tspan><tspan dy="-1.6">) of the CLOCK/</tspan></text>
<text x="23.20" y="534.50" font-size="9.3" text-anchor="middle" transform="rotate(-90 23.20 534.50)" stroke="#222" stroke-width="0.22">BMAL1–OLFML3–HIF1α–LGMN axis</text>
<g fill="#8a4aa8"><circle cx="87.2" cy="527.8" r="0.8"/><circle cx="82.7" cy="529.9" r="0.8"/><circle cx="87.4" cy="522.6" r="0.8"/><circle cx="90.5" cy="525.7" r="0.8"/><circle cx="87.5" cy="510.6" r="0.8"/><circle cx="73.4" cy="526.2" r="0.8"/><circle cx="88.0" cy="531.9" r="0.8"/><circle cx="84.2" cy="522.9" r="0.8"/><circle cx="85.5" cy="529.7" r="0.8"/><circle cx="86.1" cy="531.8" r="0.8"/><circle cx="87.2" cy="521.3" r="0.8"/><circle cx="94.3" cy="527.1" r="0.8"/><circle cx="93.5" cy="513.9" r="0.8"/><circle cx="87.8" cy="518.7" r="0.8"/><circle cx="79.2" cy="532.8" r="0.8"/><circle cx="76.2" cy="517.0" r="0.8"/><circle cx="90.4" cy="521.9" r="0.8"/><circle cx="103.9" cy="523.2" r="0.8"/><circle cx="88.0" cy="523.6" r="0.8"/><circle cx="85.4" cy="509.6" r="0.8"/><circle cx="93.9" cy="534.9" r="0.8"/><circle cx="72.4" cy="525.5" r="0.8"/><circle cx="84.9" cy="536.1" r="0.8"/><circle cx="88.0" cy="539.6" r="0.8"/><circle cx="94.8" cy="525.4" r="0.8"/><circle cx="84.9" cy="531.9" r="0.8"/><circle cx="88.5" cy="540.3" r="0.8"/><circle cx="89.5" cy="522.9" r="0.8"/><circle cx="95.5" cy="518.8" r="0.8"/><circle cx="75.9" cy="518.3" r="0.8"/><circle cx="91.8" cy="529.9" r="0.8"/><circle cx="71.7" cy="533.0" r="0.8"/><circle cx="58.9" cy="529.9" r="0.8"/><circle cx="81.3" cy="529.6" r="0.8"/><circle cx="77.0" cy="525.1" r="0.8"/><circle cx="97.4" cy="523.9" r="0.8"/><circle cx="92.2" cy="529.3" r="0.8"/><circle cx="75.1" cy="537.2" r="0.8"/><circle cx="94.5" cy="524.2" r="0.8"/><circle cx="79.9" cy="520.5" r="0.8"/><circle cx="87.4" cy="531.1" r="0.8"/><circle cx="84.9" cy="534.6" r="0.8"/><circle cx="88.2" cy="522.8" r="0.8"/><circle cx="93.3" cy="510.5" r="0.8"/><circle cx="93.5" cy="538.6" r="0.8"/><circle cx="90.8" cy="528.3" r="0.8"/><circle cx="92.8" cy="521.6" r="0.8"/><circle cx="91.8" cy="539.8" r="0.8"/><circle cx="79.1" cy="521.9" r="0.8"/><circle cx="81.8" cy="513.2" r="0.8"/><circle cx="84.9" cy="541.2" r="0.8"/><circle cx="92.5" cy="538.8" r="0.8"/><circle cx="86.7" cy="524.2" r="0.8"/><circle cx="107.0" cy="508.0" r="0.8"/><circle cx="79.9" cy="540.9" r="0.8"/><circle cx="76.8" cy="533.1" r="0.8"/><circle cx="94.1" cy="528.1" r="0.8"/><circle cx="102.1" cy="533.6" r="0.8"/><circle cx="91.9" cy="512.1" r="0.8"/><circle cx="93.4" cy="523.4" r="0.8"/><circle cx="100.4" cy="528.6" r="0.8"/><circle cx="86.7" cy="525.4" r="0.8"/><circle cx="71.9" cy="516.0" r="0.8"/><circle cx="82.8" cy="528.0" r="0.8"/><circle cx="94.7" cy="530.3" r="0.8"/><circle cx="74.9" cy="529.2" r="0.8"/><circle cx="87.7" cy="527.2" r="0.8"/><circle cx="90.0" cy="526.3" r="0.8"/><circle cx="84.8" cy="527.7" r="0.8"/><circle cx="94.7" cy="519.8" r="0.8"/><circle cx="92.0" cy="531.3" r="0.8"/><circle cx="107.2" cy="527.8" r="0.8"/><circle cx="91.1" cy="519.1" r="0.8"/><circle cx="80.9" cy="515.8" r="0.8"/><circle cx="84.7" cy="526.3" r="0.8"/><circle cx="76.6" cy="530.6" r="0.8"/><circle cx="95.5" cy="535.2" r="0.8"/><circle cx="81.0" cy="525.0" r="0.8"/><circle cx="85.4" cy="531.8" r="0.8"/><circle cx="92.6" cy="512.1" r="0.8"/><circle cx="79.6" cy="533.3" r="0.8"/><circle cx="83.4" cy="519.8" r="0.8"/><circle cx="68.4" cy="525.9" r="0.8"/><circle cx="77.6" cy="522.3" r="0.8"/><circle cx="83.4" cy="530.6" r="0.8"/><circle cx="92.2" cy="530.8" r="0.8"/><circle cx="97.3" cy="515.6" r="0.8"/><circle cx="87.7" cy="525.9" r="0.8"/><circle cx="87.4" cy="521.9" r="0.8"/><circle cx="87.4" cy="532.6" r="0.8"/><circle cx="96.0" cy="522.6" r="0.8"/><circle cx="92.0" cy="522.5" r="0.8"/><circle cx="89.5" cy="529.8" r="0.8"/><circle cx="78.7" cy="523.1" r="0.8"/><circle cx="94.3" cy="529.5" r="0.8"/><circle cx="91.3" cy="536.2" r="0.8"/><circle cx="97.8" cy="528.6" r="0.8"/><circle cx="86.5" cy="524.6" r="0.8"/><circle cx="105.1" cy="514.6" r="0.8"/><circle cx="83.6" cy="528.9" r="0.8"/><circle cx="99.9" cy="518.5" r="0.8"/><circle cx="88.5" cy="515.3" r="0.8"/><circle cx="80.7" cy="526.9" r="0.8"/><circle cx="76.0" cy="528.6" r="0.8"/><circle cx="85.3" cy="538.7" r="0.8"/><circle cx="101.3" cy="518.8" r="0.8"/><circle cx="96.0" cy="508.2" r="0.8"/><circle cx="92.7" cy="525.3" r="0.8"/><circle cx="64.3" cy="516.1" r="0.8"/><circle cx="90.9" cy="521.8" r="0.8"/><circle cx="89.8" cy="544.1" r="0.8"/><circle cx="78.6" cy="537.5" r="0.8"/><circle cx="82.3" cy="533.1" r="0.8"/><circle cx="86.3" cy="534.5" r="0.8"/><circle cx="103.8" cy="531.0" r="0.8"/><circle cx="78.7" cy="534.7" r="0.8"/><circle cx="81.6" cy="526.1" r="0.8"/><circle cx="99.5" cy="513.5" r="0.8"/><circle cx="82.7" cy="535.5" r="0.8"/><circle cx="82.5" cy="531.0" r="0.8"/><circle cx="88.7" cy="523.0" r="0.8"/><circle cx="74.8" cy="521.9" r="0.8"/><circle cx="88.0" cy="526.8" r="0.8"/><circle cx="75.6" cy="517.1" r="0.8"/><circle cx="94.9" cy="527.1" r="0.8"/><circle cx="85.2" cy="521.4" r="0.8"/><circle cx="107.3" cy="519.9" r="0.8"/><circle cx="86.6" cy="518.6" r="0.8"/><circle cx="97.6" cy="529.7" r="0.8"/><circle cx="76.0" cy="537.6" r="0.8"/><circle cx="85.4" cy="525.8" r="0.8"/><circle cx="88.3" cy="516.1" r="0.8"/><circle cx="105.3" cy="536.9" r="0.8"/><circle cx="68.8" cy="523.4" r="0.8"/><circle cx="94.1" cy="527.5" r="0.8"/><circle cx="92.4" cy="520.1" r="0.8"/><circle cx="100.8" cy="522.9" r="0.8"/><circle cx="92.3" cy="515.8" r="0.8"/><circle cx="86.5" cy="523.7" r="0.8"/><circle cx="81.0" cy="526.3" r="0.8"/><circle cx="74.7" cy="529.4" r="0.8"/><circle cx="87.1" cy="520.3" r="0.8"/><circle cx="86.9" cy="524.3" r="0.8"/><circle cx="106.8" cy="516.5" r="0.8"/><circle cx="82.3" cy="524.7" r="0.8"/><circle cx="90.0" cy="519.3" r="0.8"/><circle cx="72.0" cy="535.7" r="0.8"/><circle cx="83.0" cy="540.3" r="0.8"/><circle cx="89.1" cy="522.7" r="0.8"/><circle cx="96.2" cy="523.3" r="0.8"/></g>
<g fill="#1e8a4c"><circle cx="86.7" cy="540.7" r="0.8"/><circle cx="83.6" cy="552.5" r="0.8"/><circle cx="84.2" cy="552.0" r="0.8"/><circle cx="94.2" cy="540.6" r="0.8"/><circle cx="86.3" cy="540.2" r="0.8"/><circle cx="74.1" cy="535.4" r="0.8"/><circle cx="88.9" cy="542.4" r="0.8"/><circle cx="83.4" cy="554.1" r="0.8"/><circle cx="85.6" cy="531.7" r="0.8"/><circle cx="87.8" cy="544.3" r="0.8"/><circle cx="90.5" cy="558.2" r="0.8"/><circle cx="97.9" cy="537.0" r="0.8"/><circle cx="92.0" cy="528.6" r="0.8"/><circle cx="89.1" cy="542.2" r="0.8"/><circle cx="79.6" cy="545.4" r="0.8"/><circle cx="76.4" cy="553.3" r="0.8"/><circle cx="91.0" cy="531.7" r="0.8"/><circle cx="100.2" cy="546.2" r="0.8"/><circle cx="90.1" cy="524.5" r="0.8"/><circle cx="86.0" cy="548.0" r="0.8"/><circle cx="90.4" cy="536.6" r="0.8"/><circle cx="71.7" cy="544.5" r="0.8"/><circle cx="85.3" cy="552.8" r="0.8"/><circle cx="94.2" cy="526.8" r="0.8"/><circle cx="93.1" cy="550.3" r="0.8"/><circle cx="84.0" cy="549.4" r="0.8"/><circle cx="89.9" cy="560.1" r="0.8"/><circle cx="88.7" cy="526.2" r="0.8"/><circle cx="92.4" cy="541.5" r="0.8"/><circle cx="74.1" cy="538.7" r="0.8"/><circle cx="91.7" cy="524.4" r="0.8"/><circle cx="72.7" cy="546.9" r="0.8"/><circle cx="62.8" cy="550.2" r="0.8"/><circle cx="79.0" cy="540.1" r="0.8"/><circle cx="77.8" cy="541.5" r="0.8"/><circle cx="95.5" cy="542.7" r="0.8"/><circle cx="93.6" cy="525.6" r="0.8"/><circle cx="73.6" cy="530.2" r="0.8"/><circle cx="94.3" cy="545.0" r="0.8"/><circle cx="80.8" cy="540.9" r="0.8"/><circle cx="87.9" cy="534.1" r="0.8"/><circle cx="81.5" cy="541.0" r="0.8"/><circle cx="87.0" cy="551.1" r="0.8"/><circle cx="91.8" cy="538.7" r="0.8"/><circle cx="93.6" cy="536.1" r="0.8"/><circle cx="89.5" cy="546.3" r="0.8"/><circle cx="91.4" cy="544.0" r="0.8"/><circle cx="89.7" cy="541.6" r="0.8"/><circle cx="80.8" cy="549.1" r="0.8"/><circle cx="79.6" cy="548.3" r="0.8"/><circle cx="82.3" cy="537.8" r="0.8"/><circle cx="91.6" cy="535.9" r="0.8"/><circle cx="81.9" cy="544.8" r="0.8"/><circle cx="109.1" cy="530.6" r="0.8"/><circle cx="76.7" cy="541.8" r="0.8"/><circle cx="78.1" cy="544.1" r="0.8"/><circle cx="93.8" cy="535.6" r="0.8"/><circle cx="100.4" cy="532.3" r="0.8"/><circle cx="91.6" cy="538.4" r="0.8"/><circle cx="93.4" cy="540.5" r="0.8"/><circle cx="101.9" cy="538.8" r="0.8"/><circle cx="85.6" cy="544.8" r="0.8"/><circle cx="74.4" cy="550.2" r="0.8"/><circle cx="83.0" cy="548.9" r="0.8"/><circle cx="94.1" cy="537.4" r="0.8"/><circle cx="73.3" cy="541.5" r="0.8"/><circle cx="88.5" cy="543.5" r="0.8"/><circle cx="89.7" cy="547.1" r="0.8"/><circle cx="85.5" cy="536.1" r="0.8"/><circle cx="94.3" cy="537.5" r="0.8"/><circle cx="91.0" cy="542.3" r="0.8"/><circle cx="109.3" cy="535.7" r="0.8"/><circle cx="92.7" cy="550.0" r="0.8"/><circle cx="81.2" cy="547.4" r="0.8"/><circle cx="79.8" cy="543.5" r="0.8"/><circle cx="76.2" cy="537.7" r="0.8"/><circle cx="96.9" cy="538.8" r="0.8"/><circle cx="79.9" cy="549.7" r="0.8"/><circle cx="85.8" cy="559.8" r="0.8"/><circle cx="94.0" cy="533.9" r="0.8"/><circle cx="79.4" cy="546.3" r="0.8"/><circle cx="84.2" cy="538.6" r="0.8"/><circle cx="70.9" cy="544.2" r="0.8"/><circle cx="75.5" cy="546.9" r="0.8"/><circle cx="81.6" cy="529.8" r="0.8"/><circle cx="90.1" cy="548.1" r="0.8"/><circle cx="96.7" cy="554.8" r="0.8"/><circle cx="87.0" cy="551.3" r="0.8"/><circle cx="87.4" cy="556.0" r="0.8"/><circle cx="86.7" cy="536.3" r="0.8"/><circle cx="95.0" cy="552.5" r="0.8"/><circle cx="95.4" cy="541.4" r="0.8"/><circle cx="89.9" cy="534.2" r="0.8"/><circle cx="77.2" cy="553.1" r="0.8"/><circle cx="95.0" cy="534.9" r="0.8"/><circle cx="89.4" cy="551.3" r="0.8"/><circle cx="99.8" cy="540.9" r="0.8"/><circle cx="85.8" cy="540.8" r="0.8"/><circle cx="106.6" cy="534.1" r="0.8"/><circle cx="82.8" cy="536.3" r="0.8"/><circle cx="104.8" cy="525.7" r="0.8"/><circle cx="88.7" cy="549.0" r="0.8"/><circle cx="87.3" cy="549.9" r="0.8"/><circle cx="75.5" cy="548.8" r="0.8"/><circle cx="87.6" cy="537.2" r="0.8"/><circle cx="98.0" cy="536.0" r="0.8"/><circle cx="95.2" cy="541.3" r="0.8"/><circle cx="91.4" cy="545.3" r="0.8"/><circle cx="63.7" cy="545.9" r="0.8"/><circle cx="92.6" cy="533.6" r="0.8"/><circle cx="90.5" cy="553.3" r="0.8"/><circle cx="80.4" cy="531.7" r="0.8"/><circle cx="80.0" cy="524.0" r="0.8"/><circle cx="87.4" cy="549.7" r="0.8"/><circle cx="101.7" cy="535.4" r="0.8"/><circle cx="75.1" cy="524.9" r="0.8"/><circle cx="81.2" cy="536.7" r="0.8"/><circle cx="101.6" cy="538.1" r="0.8"/><circle cx="81.0" cy="544.2" r="0.8"/><circle cx="83.8" cy="534.6" r="0.8"/><circle cx="87.7" cy="551.4" r="0.8"/><circle cx="75.1" cy="548.7" r="0.8"/><circle cx="85.6" cy="546.4" r="0.8"/><circle cx="73.2" cy="539.3" r="0.8"/><circle cx="97.8" cy="523.7" r="0.8"/><circle cx="85.9" cy="544.6" r="0.8"/><circle cx="109.2" cy="527.3" r="0.8"/><circle cx="88.7" cy="541.4" r="0.8"/><circle cx="102.7" cy="537.9" r="0.8"/><circle cx="73.7" cy="542.8" r="0.8"/><circle cx="86.4" cy="548.8" r="0.8"/><circle cx="89.4" cy="549.2" r="0.8"/><circle cx="102.7" cy="522.4" r="0.8"/><circle cx="71.9" cy="544.9" r="0.8"/><circle cx="94.7" cy="541.3" r="0.8"/><circle cx="93.8" cy="543.5" r="0.8"/><circle cx="103.2" cy="547.6" r="0.8"/><circle cx="93.0" cy="525.7" r="0.8"/><circle cx="84.3" cy="532.0" r="0.8"/><circle cx="79.1" cy="543.2" r="0.8"/></g>
<g fill="#111111"><circle cx="85.1" cy="496.2" r="0.7"/><circle cx="80.5" cy="525.5" r="0.7"/><circle cx="84.8" cy="504.3" r="0.7"/><circle cx="92.0" cy="504.8" r="0.7"/><circle cx="83.8" cy="509.0" r="0.7"/><circle cx="71.4" cy="506.1" r="0.7"/><circle cx="90.7" cy="488.3" r="0.7"/><circle cx="83.2" cy="508.3" r="0.7"/><circle cx="84.7" cy="507.7" r="0.7"/><circle cx="87.7" cy="519.7" r="0.7"/><circle cx="89.4" cy="512.6" r="0.7"/><circle cx="96.3" cy="517.5" r="0.7"/><circle cx="94.6" cy="503.2" r="0.7"/><circle cx="89.4" cy="500.5" r="0.7"/><circle cx="77.3" cy="517.9" r="0.7"/><circle cx="78.2" cy="514.4" r="0.7"/><circle cx="87.4" cy="505.7" r="0.7"/><circle cx="98.8" cy="510.9" r="0.7"/><circle cx="86.6" cy="509.0" r="0.7"/><circle cx="81.9" cy="500.4" r="0.7"/><circle cx="90.5" cy="489.7" r="0.7"/><circle cx="71.3" cy="524.7" r="0.7"/><circle cx="85.5" cy="520.6" r="0.7"/><circle cx="90.4" cy="496.9" r="0.7"/><circle cx="94.4" cy="518.7" r="0.7"/><circle cx="84.7" cy="506.7" r="0.7"/><circle cx="92.1" cy="496.5" r="0.7"/><circle cx="93.4" cy="518.9" r="0.7"/><circle cx="94.0" cy="512.8" r="0.7"/><circle cx="77.9" cy="498.3" r="0.7"/><circle cx="93.1" cy="510.1" r="0.7"/><circle cx="71.4" cy="529.3" r="0.7"/><circle cx="64.5" cy="505.4" r="0.7"/><circle cx="80.6" cy="496.4" r="0.7"/><circle cx="79.2" cy="496.4" r="0.7"/><circle cx="92.6" cy="509.6" r="0.7"/><circle cx="93.2" cy="498.5" r="0.7"/><circle cx="76.6" cy="517.3" r="0.7"/><circle cx="94.8" cy="480.3" r="0.7"/><circle cx="78.3" cy="497.7" r="0.7"/><circle cx="85.9" cy="496.5" r="0.7"/><circle cx="86.5" cy="503.0" r="0.7"/><circle cx="89.5" cy="512.2" r="0.7"/><circle cx="95.2" cy="492.4" r="0.7"/><circle cx="91.6" cy="491.4" r="0.7"/><circle cx="89.0" cy="511.6" r="0.7"/><circle cx="92.8" cy="482.6" r="0.7"/><circle cx="91.6" cy="493.1" r="0.7"/><circle cx="79.7" cy="505.3" r="0.7"/><circle cx="78.2" cy="512.4" r="0.7"/><circle cx="83.5" cy="505.4" r="0.7"/><circle cx="93.5" cy="504.2" r="0.7"/><circle cx="84.0" cy="491.8" r="0.7"/><circle cx="107.7" cy="513.4" r="0.7"/><circle cx="80.9" cy="501.6" r="0.7"/><circle cx="73.2" cy="507.6" r="0.7"/><circle cx="93.3" cy="484.3" r="0.7"/><circle cx="99.0" cy="506.4" r="0.7"/><circle cx="90.1" cy="513.8" r="0.7"/><circle cx="93.5" cy="516.7" r="0.7"/><circle cx="98.6" cy="517.0" r="0.7"/><circle cx="83.6" cy="520.9" r="0.7"/><circle cx="72.5" cy="515.2" r="0.7"/><circle cx="79.9" cy="501.2" r="0.7"/><circle cx="95.6" cy="505.9" r="0.7"/><circle cx="72.4" cy="492.0" r="0.7"/><circle cx="87.4" cy="499.0" r="0.7"/><circle cx="85.3" cy="511.2" r="0.7"/><circle cx="80.6" cy="510.2" r="0.7"/><circle cx="94.0" cy="508.8" r="0.7"/><circle cx="92.9" cy="512.7" r="0.7"/><circle cx="109.4" cy="513.3" r="0.7"/><circle cx="92.1" cy="498.2" r="0.7"/><circle cx="81.7" cy="506.8" r="0.7"/><circle cx="84.2" cy="509.0" r="0.7"/><circle cx="78.2" cy="534.7" r="0.7"/><circle cx="98.2" cy="504.5" r="0.7"/><circle cx="79.7" cy="492.7" r="0.7"/><circle cx="87.8" cy="502.7" r="0.7"/><circle cx="91.7" cy="498.4" r="0.7"/><circle cx="79.0" cy="518.3" r="0.7"/><circle cx="85.4" cy="526.2" r="0.7"/><circle cx="70.2" cy="504.3" r="0.7"/><circle cx="79.5" cy="502.9" r="0.7"/><circle cx="78.4" cy="515.1" r="0.7"/><circle cx="90.7" cy="499.3" r="0.7"/><circle cx="99.3" cy="520.4" r="0.7"/><circle cx="86.0" cy="494.4" r="0.7"/><circle cx="91.4" cy="483.7" r="0.7"/><circle cx="87.7" cy="492.6" r="0.7"/><circle cx="99.4" cy="488.1" r="0.7"/><circle cx="96.1" cy="492.9" r="0.7"/><circle cx="88.1" cy="518.4" r="0.7"/><circle cx="78.6" cy="510.0" r="0.7"/><circle cx="95.2" cy="507.5" r="0.7"/><circle cx="89.7" cy="500.8" r="0.7"/><circle cx="96.8" cy="500.4" r="0.7"/><circle cx="86.8" cy="504.9" r="0.7"/><circle cx="104.0" cy="491.0" r="0.7"/><circle cx="86.0" cy="510.4" r="0.7"/><circle cx="103.5" cy="490.1" r="0.7"/><circle cx="83.9" cy="512.7" r="0.7"/><circle cx="80.9" cy="497.8" r="0.7"/><circle cx="76.3" cy="502.3" r="0.7"/><circle cx="86.2" cy="513.4" r="0.7"/><circle cx="99.0" cy="512.9" r="0.7"/><circle cx="94.1" cy="503.1" r="0.7"/><circle cx="93.4" cy="509.5" r="0.7"/><circle cx="65.6" cy="500.9" r="0.7"/><circle cx="95.6" cy="494.2" r="0.7"/><circle cx="92.2" cy="495.6" r="0.7"/><circle cx="82.4" cy="512.0" r="0.7"/><circle cx="82.7" cy="487.7" r="0.7"/><circle cx="89.5" cy="502.9" r="0.7"/><circle cx="103.4" cy="494.9" r="0.7"/><circle cx="76.8" cy="500.7" r="0.7"/><circle cx="82.5" cy="507.3" r="0.7"/><circle cx="102.1" cy="497.9" r="0.7"/><circle cx="82.6" cy="496.3" r="0.7"/><circle cx="83.5" cy="502.1" r="0.7"/><circle cx="87.5" cy="516.3" r="0.7"/><circle cx="75.0" cy="519.1" r="0.7"/><circle cx="89.1" cy="515.4" r="0.7"/><circle cx="76.6" cy="499.4" r="0.7"/><circle cx="95.4" cy="502.5" r="0.7"/><circle cx="87.3" cy="523.9" r="0.7"/><circle cx="106.6" cy="499.8" r="0.7"/><circle cx="89.8" cy="504.0" r="0.7"/><circle cx="98.1" cy="499.4" r="0.7"/><circle cx="73.8" cy="518.8" r="0.7"/><circle cx="86.0" cy="506.4" r="0.7"/><circle cx="91.5" cy="495.9" r="0.7"/><circle cx="104.2" cy="495.7" r="0.7"/><circle cx="69.6" cy="518.6" r="0.7"/><circle cx="93.9" cy="480.3" r="0.7"/><circle cx="90.7" cy="505.1" r="0.7"/><circle cx="100.6" cy="502.9" r="0.7"/><circle cx="92.5" cy="521.4" r="0.7"/><circle cx="85.7" cy="518.6" r="0.7"/><circle cx="81.6" cy="512.6" r="0.7"/><circle cx="73.9" cy="505.6" r="0.7"/><circle cx="87.7" cy="494.3" r="0.7"/><circle cx="84.3" cy="502.5" r="0.7"/><circle cx="103.8" cy="492.4" r="0.7"/><circle cx="80.4" cy="501.8" r="0.7"/><circle cx="90.2" cy="504.8" r="0.7"/><circle cx="72.2" cy="512.3" r="0.7"/><circle cx="84.9" cy="495.1" r="0.7"/><circle cx="89.8" cy="515.2" r="0.7"/><circle cx="92.9" cy="509.0" r="0.7"/><circle cx="100.0" cy="495.6" r="0.7"/><circle cx="85.0" cy="492.6" r="0.7"/><circle cx="76.2" cy="527.7" r="0.7"/><circle cx="90.3" cy="529.4" r="0.7"/><circle cx="90.5" cy="508.6" r="0.7"/><circle cx="90.4" cy="506.3" r="0.7"/><circle cx="79.5" cy="512.2" r="0.7"/><circle cx="99.5" cy="487.9" r="0.7"/><circle cx="85.9" cy="491.5" r="0.7"/><circle cx="90.9" cy="511.2" r="0.7"/><circle cx="100.9" cy="522.8" r="0.7"/><circle cx="93.3" cy="514.9" r="0.7"/><circle cx="89.2" cy="505.2" r="0.7"/><circle cx="109.4" cy="505.7" r="0.7"/><circle cx="88.9" cy="497.0" r="0.7"/><circle cx="83.5" cy="513.4" r="0.7"/><circle cx="87.7" cy="502.8" r="0.7"/><circle cx="101.9" cy="509.2" r="0.7"/><circle cx="87.2" cy="500.7" r="0.7"/><circle cx="91.3" cy="504.6" r="0.7"/><circle cx="97.9" cy="507.9" r="0.7"/><circle cx="80.7" cy="501.3" r="0.7"/><circle cx="68.9" cy="497.4" r="0.7"/><circle cx="89.8" cy="516.2" r="0.7"/><circle cx="89.3" cy="501.6" r="0.7"/><circle cx="82.1" cy="493.6" r="0.7"/><circle cx="94.4" cy="509.1" r="0.7"/><circle cx="91.5" cy="512.7" r="0.7"/><circle cx="76.2" cy="504.3" r="0.7"/><circle cx="91.6" cy="507.7" r="0.7"/><circle cx="83.8" cy="501.4" r="0.7"/><circle cx="72.0" cy="519.0" r="0.7"/><circle cx="90.7" cy="505.6" r="0.7"/><circle cx="84.7" cy="496.2" r="0.7"/><circle cx="80.9" cy="505.4" r="0.7"/><circle cx="91.8" cy="497.2" r="0.7"/><circle cx="91.2" cy="493.7" r="0.7"/><circle cx="83.7" cy="504.2" r="0.7"/><circle cx="91.1" cy="493.9" r="0.7"/><circle cx="95.8" cy="512.9" r="0.7"/></g>
<g fill="#a08040"><circle cx="86.6" cy="536.3" r="0.85"/><circle cx="87.7" cy="514.3" r="0.85"/><circle cx="85.9" cy="521.8" r="0.85"/><circle cx="95.8" cy="529.8" r="0.85"/><circle cx="83.8" cy="527.9" r="0.85"/><circle cx="72.2" cy="532.8" r="0.85"/><circle cx="90.0" cy="520.6" r="0.85"/><circle cx="83.0" cy="508.2" r="0.85"/><circle cx="82.6" cy="534.1" r="0.85"/><circle cx="88.3" cy="523.9" r="0.85"/><circle cx="89.5" cy="527.5" r="0.85"/><circle cx="96.1" cy="527.0" r="0.85"/><circle cx="91.9" cy="517.0" r="0.85"/><circle cx="87.0" cy="515.3" r="0.85"/><circle cx="80.6" cy="513.5" r="0.85"/><circle cx="78.4" cy="516.0" r="0.85"/><circle cx="90.1" cy="526.5" r="0.85"/><circle cx="98.7" cy="537.4" r="0.85"/><circle cx="87.5" cy="528.2" r="0.85"/><circle cx="86.3" cy="517.5" r="0.85"/><circle cx="89.7" cy="531.0" r="0.85"/><circle cx="72.5" cy="528.4" r="0.85"/><circle cx="84.0" cy="532.9" r="0.85"/><circle cx="91.4" cy="536.9" r="0.85"/><circle cx="91.8" cy="515.2" r="0.85"/><circle cx="82.5" cy="527.7" r="0.85"/><circle cx="88.2" cy="534.7" r="0.85"/><circle cx="88.4" cy="525.7" r="0.85"/><circle cx="95.5" cy="517.3" r="0.85"/><circle cx="75.8" cy="516.5" r="0.85"/><circle cx="93.7" cy="517.8" r="0.85"/><circle cx="71.8" cy="514.6" r="0.85"/><circle cx="64.6" cy="518.6" r="0.85"/><circle cx="83.5" cy="514.2" r="0.85"/><circle cx="79.3" cy="532.8" r="0.85"/><circle cx="93.3" cy="522.0" r="0.85"/><circle cx="90.5" cy="527.2" r="0.85"/><circle cx="76.5" cy="529.3" r="0.85"/><circle cx="95.4" cy="533.5" r="0.85"/><circle cx="76.5" cy="514.1" r="0.85"/><circle cx="86.2" cy="519.7" r="0.85"/><circle cx="86.4" cy="510.6" r="0.85"/><circle cx="86.5" cy="510.4" r="0.85"/><circle cx="93.5" cy="521.7" r="0.85"/><circle cx="92.7" cy="511.9" r="0.85"/><circle cx="88.3" cy="518.0" r="0.85"/><circle cx="93.6" cy="514.2" r="0.85"/><circle cx="90.9" cy="512.8" r="0.85"/><circle cx="79.8" cy="512.6" r="0.85"/><circle cx="80.4" cy="535.5" r="0.85"/><circle cx="82.9" cy="521.0" r="0.85"/><circle cx="90.9" cy="528.4" r="0.85"/><circle cx="84.0" cy="535.5" r="0.85"/><circle cx="111.1" cy="529.8" r="0.85"/><circle cx="78.0" cy="512.8" r="0.85"/><circle cx="77.2" cy="516.7" r="0.85"/><circle cx="96.1" cy="524.0" r="0.85"/><circle cx="98.6" cy="513.4" r="0.85"/><circle cx="92.6" cy="524.5" r="0.85"/><circle cx="92.7" cy="510.4" r="0.85"/><circle cx="100.9" cy="533.1" r="0.85"/><circle cx="86.9" cy="535.2" r="0.85"/><circle cx="72.6" cy="533.8" r="0.85"/><circle cx="80.8" cy="530.3" r="0.85"/><circle cx="94.8" cy="514.9" r="0.85"/><circle cx="73.5" cy="517.9" r="0.85"/><circle cx="88.6" cy="525.4" r="0.85"/><circle cx="89.2" cy="517.1" r="0.85"/><circle cx="86.2" cy="514.2" r="0.85"/><circle cx="95.5" cy="512.1" r="0.85"/><circle cx="93.7" cy="537.6" r="0.85"/><circle cx="109.8" cy="517.9" r="0.85"/><circle cx="92.6" cy="526.3" r="0.85"/><circle cx="80.3" cy="519.1" r="0.85"/><circle cx="82.6" cy="536.1" r="0.85"/><circle cx="79.2" cy="528.1" r="0.85"/><circle cx="94.3" cy="517.9" r="0.85"/><circle cx="80.9" cy="528.8" r="0.85"/><circle cx="84.9" cy="519.9" r="0.85"/><circle cx="93.7" cy="531.3" r="0.85"/><circle cx="78.7" cy="524.7" r="0.85"/><circle cx="84.5" cy="531.9" r="0.85"/><circle cx="70.1" cy="531.4" r="0.85"/><circle cx="80.5" cy="531.3" r="0.85"/><circle cx="80.2" cy="521.2" r="0.85"/><circle cx="89.3" cy="514.5" r="0.85"/><circle cx="100.5" cy="524.3" r="0.85"/><circle cx="86.8" cy="526.9" r="0.85"/><circle cx="89.1" cy="509.1" r="0.85"/><circle cx="89.6" cy="530.1" r="0.85"/><circle cx="99.1" cy="510.5" r="0.85"/><circle cx="95.8" cy="527.2" r="0.85"/><circle cx="89.4" cy="529.1" r="0.85"/><circle cx="77.9" cy="526.0" r="0.85"/><circle cx="92.0" cy="513.3" r="0.85"/><circle cx="90.6" cy="512.1" r="0.85"/><circle cx="98.0" cy="519.3" r="0.85"/><circle cx="88.0" cy="518.6" r="0.85"/><circle cx="105.5" cy="491.3" r="0.85"/><circle cx="83.1" cy="521.1" r="0.85"/><circle cx="104.2" cy="527.6" r="0.85"/><circle cx="86.3" cy="535.2" r="0.85"/><circle cx="82.6" cy="517.0" r="0.85"/><circle cx="77.1" cy="535.4" r="0.85"/><circle cx="86.7" cy="511.4" r="0.85"/><circle cx="99.9" cy="520.5" r="0.85"/><circle cx="95.4" cy="518.0" r="0.85"/><circle cx="94.1" cy="531.2" r="0.85"/><circle cx="64.1" cy="535.5" r="0.85"/><circle cx="94.3" cy="516.7" r="0.85"/><circle cx="91.8" cy="519.0" r="0.85"/><circle cx="79.3" cy="515.3" r="0.85"/><circle cx="80.1" cy="521.8" r="0.85"/><circle cx="88.3" cy="528.9" r="0.85"/><circle cx="104.7" cy="519.2" r="0.85"/><circle cx="76.8" cy="518.3" r="0.85"/><circle cx="80.9" cy="517.5" r="0.85"/><circle cx="99.6" cy="511.5" r="0.85"/><circle cx="82.2" cy="526.0" r="0.85"/><circle cx="83.8" cy="523.1" r="0.85"/><circle cx="85.9" cy="524.1" r="0.85"/><circle cx="76.8" cy="524.1" r="0.85"/><circle cx="87.5" cy="515.7" r="0.85"/><circle cx="72.6" cy="542.8" r="0.85"/><circle cx="95.0" cy="519.7" r="0.85"/><circle cx="87.0" cy="530.2" r="0.85"/><circle cx="108.0" cy="532.6" r="0.85"/><circle cx="89.7" cy="536.5" r="0.85"/><circle cx="99.3" cy="518.5" r="0.85"/><circle cx="71.9" cy="528.5" r="0.85"/><circle cx="86.7" cy="508.3" r="0.85"/><circle cx="87.6" cy="519.1" r="0.85"/><circle cx="101.3" cy="532.8" r="0.85"/><circle cx="73.2" cy="517.6" r="0.85"/><circle cx="94.8" cy="519.4" r="0.85"/><circle cx="93.2" cy="519.9" r="0.85"/><circle cx="104.4" cy="514.9" r="0.85"/><circle cx="89.1" cy="524.6" r="0.85"/><circle cx="86.1" cy="524.1" r="0.85"/><circle cx="81.8" cy="528.6" r="0.85"/><circle cx="73.4" cy="511.4" r="0.85"/><circle cx="89.4" cy="528.0" r="0.85"/><circle cx="85.9" cy="516.2" r="0.85"/><circle cx="107.5" cy="529.5" r="0.85"/><circle cx="82.1" cy="528.2" r="0.85"/><circle cx="91.4" cy="523.5" r="0.85"/><circle cx="68.6" cy="523.8" r="0.85"/><circle cx="80.4" cy="524.8" r="0.85"/><circle cx="89.1" cy="525.6" r="0.85"/><circle cx="92.3" cy="531.7" r="0.85"/><circle cx="99.1" cy="523.2" r="0.85"/><circle cx="88.1" cy="515.7" r="0.85"/><circle cx="75.5" cy="511.9" r="0.85"/><circle cx="89.0" cy="515.8" r="0.85"/><circle cx="91.3" cy="519.6" r="0.85"/><circle cx="92.2" cy="527.8" r="0.85"/><circle cx="81.3" cy="522.9" r="0.85"/><circle cx="100.8" cy="523.5" r="0.85"/><circle cx="89.4" cy="516.1" r="0.85"/><circle cx="91.6" cy="509.5" r="0.85"/><circle cx="97.1" cy="541.2" r="0.85"/><circle cx="93.7" cy="511.9" r="0.85"/><circle cx="89.5" cy="524.3" r="0.85"/><circle cx="109.2" cy="513.5" r="0.85"/><circle cx="88.0" cy="515.5" r="0.85"/><circle cx="82.1" cy="527.7" r="0.85"/><circle cx="86.2" cy="542.1" r="0.85"/><circle cx="98.9" cy="509.9" r="0.85"/><circle cx="86.2" cy="527.2" r="0.85"/><circle cx="89.9" cy="514.1" r="0.85"/><circle cx="97.9" cy="516.6" r="0.85"/><circle cx="81.7" cy="533.3" r="0.85"/><circle cx="69.0" cy="516.5" r="0.85"/><circle cx="89.4" cy="515.0" r="0.85"/><circle cx="84.3" cy="512.5" r="0.85"/><circle cx="80.3" cy="503.3" r="0.85"/><circle cx="94.1" cy="521.2" r="0.85"/><circle cx="93.4" cy="529.4" r="0.85"/><circle cx="78.6" cy="528.9" r="0.85"/><circle cx="93.4" cy="514.4" r="0.85"/><circle cx="85.6" cy="528.9" r="0.85"/><circle cx="72.4" cy="521.0" r="0.85"/><circle cx="88.0" cy="527.1" r="0.85"/><circle cx="87.6" cy="533.5" r="0.85"/><circle cx="81.5" cy="528.4" r="0.85"/><circle cx="92.1" cy="532.0" r="0.85"/><circle cx="92.0" cy="517.5" r="0.85"/><circle cx="82.9" cy="510.4" r="0.85"/><circle cx="92.3" cy="519.8" r="0.85"/><circle cx="94.5" cy="509.5" r="0.85"/><circle cx="78.1" cy="527.1" r="0.85"/><circle cx="91.3" cy="517.7" r="0.85"/><circle cx="89.0" cy="522.0" r="0.85"/><circle cx="105.6" cy="522.7" r="0.85"/><circle cx="69.4" cy="527.2" r="0.85"/><circle cx="95.3" cy="523.6" r="0.85"/><circle cx="81.7" cy="518.5" r="0.85"/><circle cx="84.1" cy="507.2" r="0.85"/><circle cx="105.0" cy="532.9" r="0.85"/><circle cx="88.2" cy="500.7" r="0.85"/></g>
<g fill="#2c48b8"><circle cx="82.4" cy="558.5" r="1.15"/><circle cx="85.8" cy="564.5" r="1.15"/><circle cx="86.1" cy="561.3" r="1.15"/><circle cx="92.3" cy="550.6" r="1.15"/><circle cx="83.5" cy="548.1" r="1.15"/><circle cx="74.8" cy="581.0" r="1.15"/><circle cx="89.8" cy="551.3" r="1.15"/><circle cx="83.5" cy="568.4" r="1.15"/><circle cx="84.1" cy="555.5" r="1.15"/><circle cx="86.9" cy="565.9" r="1.15"/><circle cx="89.7" cy="566.9" r="1.15"/><circle cx="96.4" cy="575.7" r="1.15"/><circle cx="90.7" cy="575.9" r="1.15"/><circle cx="85.2" cy="573.3" r="1.15"/><circle cx="80.2" cy="567.4" r="1.15"/><circle cx="75.9" cy="579.0" r="1.15"/><circle cx="87.6" cy="578.9" r="1.15"/><circle cx="97.2" cy="555.7" r="1.15"/><circle cx="85.0" cy="566.2" r="1.15"/><circle cx="84.8" cy="543.2" r="1.15"/><circle cx="89.1" cy="563.3" r="1.15"/><circle cx="72.5" cy="577.7" r="1.15"/><circle cx="84.2" cy="565.2" r="1.15"/><circle cx="89.8" cy="560.8" r="1.15"/><circle cx="95.5" cy="550.5" r="1.15"/><circle cx="83.5" cy="552.7" r="1.15"/><circle cx="89.9" cy="583.8" r="1.15"/><circle cx="89.8" cy="565.7" r="1.15"/><circle cx="92.8" cy="555.0" r="1.15"/><circle cx="75.5" cy="559.6" r="1.15"/><circle cx="91.9" cy="557.0" r="1.15"/><circle cx="73.4" cy="565.5" r="1.15"/><circle cx="60.5" cy="565.3" r="1.15"/><circle cx="81.0" cy="548.4" r="1.15"/><circle cx="78.8" cy="561.2" r="1.15"/><circle cx="93.8" cy="567.5" r="1.15"/><circle cx="93.1" cy="575.1" r="1.15"/><circle cx="73.5" cy="571.1" r="1.15"/><circle cx="94.6" cy="561.5" r="1.15"/><circle cx="78.9" cy="572.2" r="1.15"/><circle cx="86.9" cy="567.2" r="1.15"/><circle cx="83.6" cy="564.4" r="1.15"/><circle cx="84.8" cy="565.8" r="1.15"/><circle cx="93.5" cy="572.7" r="1.15"/><circle cx="90.0" cy="569.1" r="1.15"/><circle cx="87.3" cy="557.3" r="1.15"/><circle cx="92.5" cy="580.2" r="1.15"/><circle cx="90.2" cy="557.5" r="1.15"/><circle cx="79.9" cy="570.7" r="1.15"/><circle cx="79.4" cy="569.4" r="1.15"/><circle cx="79.8" cy="568.5" r="1.15"/><circle cx="90.6" cy="536.3" r="1.15"/><circle cx="84.0" cy="571.1" r="1.15"/><circle cx="110.1" cy="560.0" r="1.15"/><circle cx="79.3" cy="576.6" r="1.15"/><circle cx="78.6" cy="574.4" r="1.15"/><circle cx="94.5" cy="552.6" r="1.15"/><circle cx="99.6" cy="561.8" r="1.15"/><circle cx="92.3" cy="557.6" r="1.15"/><circle cx="93.0" cy="562.2" r="1.15"/><circle cx="98.7" cy="569.2" r="1.15"/><circle cx="84.9" cy="554.8" r="1.15"/><circle cx="75.6" cy="544.3" r="1.15"/><circle cx="81.6" cy="575.6" r="1.15"/><circle cx="94.3" cy="548.1" r="1.15"/><circle cx="70.9" cy="573.9" r="1.15"/><circle cx="86.2" cy="549.2" r="1.15"/><circle cx="87.6" cy="555.0" r="1.15"/><circle cx="85.6" cy="567.8" r="1.15"/><circle cx="94.2" cy="578.3" r="1.15"/><circle cx="92.0" cy="566.3" r="1.15"/><circle cx="104.8" cy="556.2" r="1.15"/><circle cx="93.0" cy="580.1" r="1.15"/><circle cx="78.9" cy="575.5" r="1.15"/><circle cx="80.6" cy="570.7" r="1.15"/><circle cx="77.5" cy="578.4" r="1.15"/><circle cx="96.1" cy="567.5" r="1.15"/><circle cx="81.2" cy="569.8" r="1.15"/><circle cx="86.7" cy="567.4" r="1.15"/><circle cx="95.0" cy="562.3" r="1.15"/><circle cx="81.2" cy="555.6" r="1.15"/><circle cx="81.8" cy="558.6" r="1.15"/><circle cx="71.9" cy="579.8" r="1.15"/><circle cx="76.5" cy="572.5" r="1.15"/><circle cx="82.0" cy="562.4" r="1.15"/><circle cx="89.6" cy="552.3" r="1.15"/><circle cx="96.7" cy="564.1" r="1.15"/><circle cx="88.0" cy="546.7" r="1.15"/><circle cx="88.4" cy="557.8" r="1.15"/><circle cx="88.6" cy="580.5" r="1.15"/><circle cx="95.5" cy="574.7" r="1.15"/><circle cx="94.4" cy="567.5" r="1.15"/><circle cx="89.3" cy="552.8" r="1.15"/><circle cx="77.8" cy="543.2" r="1.15"/><circle cx="94.8" cy="555.7" r="1.15"/><circle cx="90.9" cy="550.1" r="1.15"/><circle cx="97.7" cy="554.3" r="1.15"/><circle cx="88.8" cy="572.1" r="1.15"/><circle cx="105.0" cy="555.3" r="1.15"/><circle cx="82.7" cy="575.5" r="1.15"/><circle cx="104.3" cy="562.5" r="1.15"/><circle cx="90.3" cy="569.6" r="1.15"/><circle cx="81.5" cy="559.8" r="1.15"/><circle cx="75.8" cy="577.9" r="1.15"/><circle cx="84.2" cy="564.0" r="1.15"/><circle cx="99.1" cy="561.1" r="1.15"/><circle cx="91.1" cy="569.8" r="1.15"/><circle cx="92.9" cy="568.8" r="1.15"/><circle cx="62.9" cy="581.8" r="1.15"/><circle cx="93.5" cy="549.5" r="1.15"/><circle cx="89.9" cy="567.5" r="1.15"/><circle cx="82.9" cy="563.8" r="1.15"/><circle cx="80.6" cy="572.1" r="1.15"/><circle cx="86.7" cy="566.8" r="1.15"/><circle cx="99.8" cy="568.6" r="1.15"/><circle cx="73.9" cy="557.5" r="1.15"/><circle cx="83.9" cy="574.3" r="1.15"/><circle cx="100.7" cy="538.0" r="1.15"/><circle cx="81.6" cy="555.0" r="1.15"/><circle cx="83.8" cy="569.1" r="1.15"/><circle cx="86.0" cy="571.4" r="1.15"/><circle cx="74.4" cy="589.5" r="1.15"/><circle cx="89.5" cy="568.1" r="1.15"/><circle cx="76.0" cy="573.3" r="1.15"/><circle cx="99.4" cy="577.8" r="1.15"/><circle cx="85.4" cy="559.5" r="1.15"/><circle cx="111.6" cy="567.6" r="1.15"/><circle cx="92.0" cy="573.0" r="1.15"/><circle cx="101.4" cy="560.5" r="1.15"/><circle cx="77.7" cy="551.6" r="1.15"/><circle cx="84.6" cy="538.3" r="1.15"/><circle cx="88.1" cy="568.4" r="1.15"/><circle cx="105.7" cy="566.9" r="1.15"/><circle cx="69.9" cy="569.9" r="1.15"/><circle cx="96.7" cy="559.0" r="1.15"/><circle cx="91.2" cy="562.6" r="1.15"/><circle cx="102.0" cy="546.6" r="1.15"/><circle cx="93.9" cy="575.6" r="1.15"/><circle cx="87.2" cy="571.7" r="1.15"/><circle cx="83.7" cy="582.9" r="1.15"/><circle cx="75.8" cy="579.5" r="1.15"/><circle cx="90.4" cy="557.3" r="1.15"/><circle cx="85.2" cy="561.5" r="1.15"/><circle cx="105.2" cy="553.6" r="1.15"/><circle cx="80.9" cy="560.7" r="1.15"/><circle cx="89.8" cy="588.7" r="1.15"/><circle cx="71.2" cy="556.2" r="1.15"/><circle cx="85.1" cy="565.4" r="1.15"/><circle cx="89.0" cy="568.4" r="1.15"/><circle cx="95.4" cy="557.6" r="1.15"/><circle cx="98.9" cy="555.7" r="1.15"/><circle cx="88.1" cy="574.6" r="1.15"/><circle cx="75.9" cy="564.8" r="1.15"/><circle cx="92.0" cy="568.2" r="1.15"/><circle cx="90.8" cy="569.0" r="1.15"/><circle cx="91.9" cy="560.1" r="1.15"/><circle cx="80.1" cy="581.1" r="1.15"/><circle cx="95.8" cy="556.9" r="1.15"/><circle cx="85.7" cy="564.0" r="1.15"/><circle cx="92.8" cy="569.7" r="1.15"/><circle cx="98.7" cy="546.0" r="1.15"/><circle cx="92.8" cy="566.8" r="1.15"/><circle cx="87.3" cy="560.8" r="1.15"/><circle cx="108.6" cy="553.1" r="1.15"/><circle cx="90.7" cy="560.0" r="1.15"/><circle cx="82.0" cy="567.8" r="1.15"/><circle cx="88.5" cy="558.4" r="1.15"/><circle cx="99.9" cy="562.3" r="1.15"/><circle cx="88.3" cy="553.1" r="1.15"/><circle cx="93.0" cy="557.7" r="1.15"/><circle cx="98.5" cy="572.0" r="1.15"/><circle cx="80.3" cy="568.8" r="1.15"/><circle cx="71.9" cy="566.7" r="1.15"/><circle cx="90.3" cy="579.1" r="1.15"/><circle cx="86.7" cy="555.1" r="1.15"/><circle cx="80.9" cy="580.3" r="1.15"/><circle cx="96.2" cy="560.4" r="1.15"/><circle cx="96.7" cy="550.7" r="1.15"/><circle cx="77.8" cy="570.1" r="1.15"/><circle cx="91.9" cy="565.2" r="1.15"/><circle cx="82.8" cy="558.2" r="1.15"/><circle cx="73.1" cy="589.5" r="1.15"/><circle cx="90.0" cy="572.8" r="1.15"/><circle cx="87.7" cy="566.0" r="1.15"/><circle cx="81.8" cy="582.7" r="1.15"/><circle cx="90.1" cy="554.6" r="1.15"/><circle cx="90.3" cy="574.9" r="1.15"/><circle cx="80.5" cy="575.1" r="1.15"/><circle cx="91.2" cy="553.7" r="1.15"/><circle cx="93.9" cy="566.4" r="1.15"/><circle cx="80.0" cy="567.2" r="1.15"/><circle cx="91.5" cy="563.2" r="1.15"/><circle cx="85.9" cy="576.8" r="1.15"/><circle cx="105.4" cy="563.6" r="1.15"/><circle cx="69.2" cy="562.5" r="1.15"/><circle cx="92.7" cy="541.7" r="1.15"/><circle cx="83.7" cy="571.5" r="1.15"/><circle cx="86.3" cy="575.3" r="1.15"/><circle cx="104.9" cy="580.0" r="1.15"/><circle cx="87.6" cy="564.9" r="1.15"/></g>
<line x1="57.37" y1="531.30" x2="114.56" y2="521.10" stroke="#8a4aa8" stroke-width="1.8"/>
<line x1="57.37" y1="547.50" x2="114.56" y2="534.30" stroke="#1e8a4c" stroke-width="1.8"/>
<line x1="57.37" y1="512.70" x2="114.56" y2="495.90" stroke="#111111" stroke-width="1.8"/>
<line x1="57.37" y1="525.30" x2="114.56" y2="519.30" stroke="#a08040" stroke-width="1.8"/>
<line x1="57.37" y1="575.10" x2="114.56" y2="557.10" stroke="#2c48b8" stroke-width="1.8"/>
<line x1="122.20" y1="479.20" x2="135.60" y2="479.20" stroke="#2c48b0" stroke-width="1.6"/>
<text x="143.80" y="482.80" font-size="9" stroke="#222" stroke-width="0.22">CLOCK</text>
<text x="122.20" y="494.60" font-size="9" stroke="#222" stroke-width="0.22"><tspan font-style="italic">R</tspan> = 0.33, <tspan font-style="italic">P</tspan> &lt; 0.001</text>
<line x1="122.20" y1="502.40" x2="135.60" y2="502.40" stroke="#1e8a4c" stroke-width="1.6"/>
<text x="143.80" y="506.00" font-size="9" stroke="#222" stroke-width="0.22">ARNTL</text>
<text x="122.20" y="517.80" font-size="9" stroke="#222" stroke-width="0.22"><tspan font-style="italic">R</tspan> = 0.28, <tspan font-style="italic">P</tspan> &lt; 0.001</text>
<line x1="122.20" y1="525.70" x2="135.60" y2="525.70" stroke="#8a4aa8" stroke-width="1.6"/>
<text x="143.80" y="529.30" font-size="9" stroke="#222" stroke-width="0.22">OLFML3</text>
<text x="122.20" y="541.10" font-size="9" stroke="#222" stroke-width="0.22"><tspan font-style="italic">R</tspan> = 0.22, <tspan font-style="italic">P</tspan> = 0.01</text>
<line x1="122.20" y1="548.90" x2="135.60" y2="548.90" stroke="#111111" stroke-width="1.6"/>
<text x="143.80" y="552.50" font-size="9" stroke="#222" stroke-width="0.22">HIF1A</text>
<text x="122.20" y="564.30" font-size="9" stroke="#222" stroke-width="0.22"><tspan font-style="italic">R</tspan> = 0.39, <tspan font-style="italic">P</tspan> &lt; 0.001</text>
<line x1="122.20" y1="572.30" x2="135.60" y2="572.30" stroke="#9c7e3c" stroke-width="1.6"/>
<text x="143.80" y="575.90" font-size="9" stroke="#222" stroke-width="0.22">LGMN</text>
<text x="120.40" y="587.70" font-size="9" stroke="#222" stroke-width="0.22"><tspan font-style="italic">R</tspan> = 0.14, <tspan font-style="italic">P</tspan> = 0.09</text>
<text x="208.95" y="448.25" font-size="16.4" fill="#111" font-weight="bold" stroke="#111" stroke-width="0.22">O</text>
<line x1="246.40" y1="500.90" x2="246.40" y2="585.10" stroke="#1a1a1a" stroke-width="1.2"/>
<line x1="242.40" y1="509.60" x2="246.40" y2="509.60" stroke="#1a1a1a" stroke-width="1.2"/>
<text x="241.50" y="512.82" font-size="9.2" text-anchor="end" stroke="#222" stroke-width="0.22">100</text>
<line x1="242.40" y1="528.35" x2="246.40" y2="528.35" stroke="#1a1a1a" stroke-width="1.2"/>
<text x="241.50" y="531.57" font-size="9.2" text-anchor="end" stroke="#222" stroke-width="0.22">75</text>
<line x1="242.40" y1="547.10" x2="246.40" y2="547.10" stroke="#1a1a1a" stroke-width="1.2"/>
<text x="241.50" y="550.32" font-size="9.2" text-anchor="end" stroke="#222" stroke-width="0.22">50</text>
<line x1="242.40" y1="565.85" x2="246.40" y2="565.85" stroke="#1a1a1a" stroke-width="1.2"/>
<text x="241.50" y="569.07" font-size="9.2" text-anchor="end" stroke="#222" stroke-width="0.22">25</text>
<line x1="242.40" y1="584.60" x2="246.40" y2="584.60" stroke="#1a1a1a" stroke-width="1.2"/>
<text x="241.50" y="587.82" font-size="9.2" text-anchor="end" stroke="#222" stroke-width="0.22">0</text>
<line x1="246.40" y1="584.60" x2="359.20" y2="584.60" stroke="#1a1a1a" stroke-width="1.2"/>
<line x1="246.50" y1="584.60" x2="246.50" y2="588.10" stroke="#1a1a1a" stroke-width="1.3"/>
<line x1="291.50" y1="584.60" x2="291.50" y2="588.10" stroke="#1a1a1a" stroke-width="1.3"/>
<line x1="336.50" y1="584.60" x2="336.50" y2="588.10" stroke="#1a1a1a" stroke-width="1.3"/>
<text x="246.40" y="598.60" font-size="9" text-anchor="middle" stroke="#222" stroke-width="0.22">20</text>
<text x="291.50" y="598.60" font-size="9" text-anchor="middle" stroke="#222" stroke-width="0.22">30</text>
<text x="336.60" y="598.60" font-size="9" text-anchor="middle" stroke="#222" stroke-width="0.22">40</text>
<text x="303.40" y="613.80" font-size="9" text-anchor="middle" stroke="#222" stroke-width="0.22">Days</text>
<text x="218.80" y="543.60" font-size="9.6" text-anchor="middle" transform="rotate(-90 218.80 543.60)" stroke="#222" stroke-width="0.22">Percent survival</text>
<path d="M246.40,509.60 H286.99 V518.98 H309.54 V528.35 H314.05 V537.73 H318.56 V556.48 H323.07 V575.23 H359.15" stroke="#a67838" stroke-width="1.4" fill="none" stroke-linejoin="miter"/>
<path d="M246.40,509.60 H277.97 V517.10 H282.48 V524.60 H286.99 V532.10 H291.50 V539.60 H296.01 V554.60 H300.52 V562.10 H305.03 V569.60 H309.54 V577.10 H314.05 V584.60" stroke="#21884a" stroke-width="1.4" fill="none" stroke-linejoin="miter"/>
<path d="M246.40,509.60 H264.44 V518.98 H273.46 V537.73 H282.48 V547.10 H286.99 V556.48 H291.50 V575.23 H296.01 V584.60" stroke="#e2283c" stroke-width="1.4" fill="none" stroke-linejoin="miter"/>
<path d="M246.40,509.60 H264.44 V524.60 H268.95 V539.60 H273.46 V554.60 H277.97 V577.10 H291.50 V584.60" stroke="#2f4aa0" stroke-width="1.4" fill="none" stroke-linejoin="miter"/>
<line x1="215.00" y1="459.30" x2="229.20" y2="459.30" stroke="#2f4aa0" stroke-width="1.2"/>
<text x="232.90" y="462.70" font-size="9" stroke="#222" stroke-width="0.22">Control (26 d)</text>
<line x1="215.00" y1="471.10" x2="229.20" y2="471.10" stroke="#e2283c" stroke-width="1.2"/>
<text x="232.90" y="474.50" font-size="9" stroke="#222" stroke-width="0.22">Anti-PD1 (28.5 d)</text>
<line x1="215.00" y1="482.90" x2="229.20" y2="482.90" stroke="#21884a" stroke-width="1.2"/>
<text x="232.90" y="486.30" font-size="9" stroke="#222" stroke-width="0.22">SR9009 (31 d)</text>
<line x1="215.00" y1="494.70" x2="229.20" y2="494.70" stroke="#a67838" stroke-width="1.2"/>
<text x="232.90" y="498.10" font-size="9" stroke="#222" stroke-width="0.22">SR9009+anti–PD1 (36 d)</text>
<line x1="306.50" y1="456.70" x2="306.50" y2="472.90" stroke="#222" stroke-width="1.0"/>
<text x="316.20" y="463.80" font-size="9" text-anchor="middle" transform="rotate(-90 316.20 463.80)" stroke="#222" stroke-width="0.22">n.s.</text>
<line x1="320.50" y1="456.00" x2="320.50" y2="483.00" stroke="#222" stroke-width="1.0"/>
<text x="325.50" y="469.34" font-size="11.0" text-anchor="middle" fill="#151515" stroke="#151515" stroke-width="0.35" transform="rotate(-90 325.50 462.70)">*</text>
<text x="325.50" y="474.34" font-size="11.0" text-anchor="middle" fill="#151515" stroke="#151515" stroke-width="0.35" transform="rotate(-90 325.50 467.70)">*</text>
<text x="325.50" y="479.34" font-size="11.0" text-anchor="middle" fill="#151515" stroke="#151515" stroke-width="0.35" transform="rotate(-90 325.50 472.70)">*</text>
<line x1="337.50" y1="481.60" x2="337.50" y2="497.80" stroke="#222" stroke-width="1.0"/>
<text x="343.10" y="493.14" font-size="11.0" text-anchor="middle" fill="#151515" stroke="#151515" stroke-width="0.35" transform="rotate(-90 343.10 486.50)">*</text>
<text x="343.10" y="498.14" font-size="11.0" text-anchor="middle" fill="#151515" stroke="#151515" stroke-width="0.35" transform="rotate(-90 343.10 491.50)">*</text>
<line x1="349.50" y1="457.40" x2="349.50" y2="497.10" stroke="#222" stroke-width="1.0"/>
<text x="354.90" y="477.14" font-size="11.0" text-anchor="middle" fill="#151515" stroke="#151515" stroke-width="0.35" transform="rotate(-90 354.90 470.50)">*</text>
<text x="354.90" y="482.14" font-size="11.0" text-anchor="middle" fill="#151515" stroke="#151515" stroke-width="0.35" transform="rotate(-90 354.90 475.50)">*</text>
<text x="354.90" y="487.14" font-size="11.0" text-anchor="middle" fill="#151515" stroke="#151515" stroke-width="0.35" transform="rotate(-90 354.90 480.50)">*</text>
<text x="376.60" y="448.10" font-size="16.4" fill="#111" font-weight="bold" stroke="#111" stroke-width="0.22">P</text>
<line x1="415.40" y1="495.90" x2="415.40" y2="581.50" stroke="#1a1a1a" stroke-width="1.2"/>
<line x1="410.70" y1="504.60" x2="415.40" y2="504.60" stroke="#1a1a1a" stroke-width="1.2"/>
<text x="408.50" y="507.75" font-size="9" text-anchor="end" stroke="#222" stroke-width="0.22">100</text>
<line x1="410.70" y1="523.70" x2="415.40" y2="523.70" stroke="#1a1a1a" stroke-width="1.2"/>
<text x="408.50" y="526.85" font-size="9" text-anchor="end" stroke="#222" stroke-width="0.22">75</text>
<line x1="410.70" y1="542.80" x2="415.40" y2="542.80" stroke="#1a1a1a" stroke-width="1.2"/>
<text x="408.50" y="545.95" font-size="9" text-anchor="end" stroke="#222" stroke-width="0.22">50</text>
<line x1="410.70" y1="561.90" x2="415.40" y2="561.90" stroke="#1a1a1a" stroke-width="1.2"/>
<text x="408.50" y="565.05" font-size="9" text-anchor="end" stroke="#222" stroke-width="0.22">25</text>
<line x1="410.70" y1="581.00" x2="415.40" y2="581.00" stroke="#1a1a1a" stroke-width="1.2"/>
<text x="408.50" y="584.15" font-size="9" text-anchor="end" stroke="#222" stroke-width="0.22">0</text>
<line x1="415.40" y1="581.00" x2="515.00" y2="581.00" stroke="#1a1a1a" stroke-width="1.2"/>
<line x1="415.50" y1="581.00" x2="415.50" y2="584.80" stroke="#1a1a1a" stroke-width="1.3"/>
<line x1="456.50" y1="581.00" x2="456.50" y2="584.80" stroke="#1a1a1a" stroke-width="1.3"/>
<line x1="496.50" y1="581.00" x2="496.50" y2="584.80" stroke="#1a1a1a" stroke-width="1.3"/>
<text x="415.40" y="596.00" font-size="9" text-anchor="middle" stroke="#222" stroke-width="0.22">10</text>
<text x="456.10" y="596.00" font-size="9" text-anchor="middle" stroke="#222" stroke-width="0.22">20</text>
<text x="496.80" y="596.00" font-size="9" text-anchor="middle" stroke="#222" stroke-width="0.22">30</text>
<text x="466.60" y="611.50" font-size="9" text-anchor="middle" stroke="#222" stroke-width="0.22">Days</text>
<text x="386.80" y="539.40" font-size="9.6" text-anchor="middle" transform="rotate(-90 386.80 539.40)" stroke="#222" stroke-width="0.22">Percent survival</text>
<path d="M415.40,504.60 H484.59 V514.15 H492.73 V523.70 H496.80" stroke="#e2283c" stroke-width="1.4" fill="none"/>
<path d="M415.40,504.60 H472.38 V517.36 H476.45 V530.04 H484.59 V555.56 H496.80" stroke="#21884a" stroke-width="1.4" fill="none"/>
<path d="M415.40,504.60 H427.61 V514.15 H431.68 V523.70 H439.82 V533.25 H476.45 V552.35 H480.52 V571.45 H488.66 V581.00" stroke="#2f4aa0" stroke-width="1.4" fill="none"/>
<line x1="382.70" y1="457.70" x2="396.50" y2="457.70" stroke="#2f4aa0" stroke-width="1.2"/>
<text x="399.60" y="461.40" font-size="8.65" stroke="#222" stroke-width="0.22">Control</text>
<line x1="382.70" y1="471.55" x2="396.50" y2="471.55" stroke="#21884a" stroke-width="1.2"/>
<text x="399.60" y="475.25" font-size="8.65" stroke="#222" stroke-width="0.22">Anti-CD162</text>
<line x1="382.70" y1="485.40" x2="396.50" y2="485.40" stroke="#e2283c" stroke-width="1.2"/>
<text x="399.60" y="489.10" font-size="8.65" stroke="#222" stroke-width="0.22">Anti-CD162+anti-PD1</text>
<line x1="446.50" y1="454.00" x2="446.50" y2="474.80" stroke="#222" stroke-width="1.0"/>
<text x="457.90" y="463.40" font-size="9" text-anchor="middle" transform="rotate(-90 457.90 463.40)" stroke="#222" stroke-width="0.22"><tspan font-style="italic">P</tspan> =</text>
<text x="469.40" y="463.10" font-size="9" text-anchor="middle" transform="rotate(-90 469.40 463.10)" stroke="#222" stroke-width="0.22">0.069</text>
<line x1="486.50" y1="467.30" x2="486.50" y2="486.60" stroke="#222" stroke-width="1.0"/>
<text x="497.80" y="472.20" font-size="8.5" text-anchor="middle" transform="rotate(-90 497.80 472.20)" stroke="#222" stroke-width="0.22"><tspan font-style="italic">P</tspan> = 0.05</text>
<line x1="503.50" y1="452.70" x2="503.50" y2="485.80" stroke="#222" stroke-width="1.0"/>
<text x="508.40" y="466.64" font-size="11.0" text-anchor="middle" fill="#151515" stroke="#151515" stroke-width="0.35" transform="rotate(-90 508.40 460.00)">*</text>
<text x="508.40" y="471.64" font-size="11.0" text-anchor="middle" fill="#151515" stroke="#151515" stroke-width="0.35" transform="rotate(-90 508.40 465.00)">*</text>
<text x="508.40" y="476.64" font-size="11.0" text-anchor="middle" fill="#151515" stroke="#151515" stroke-width="0.35" transform="rotate(-90 508.40 470.00)">*</text>
</svg></body></html>
